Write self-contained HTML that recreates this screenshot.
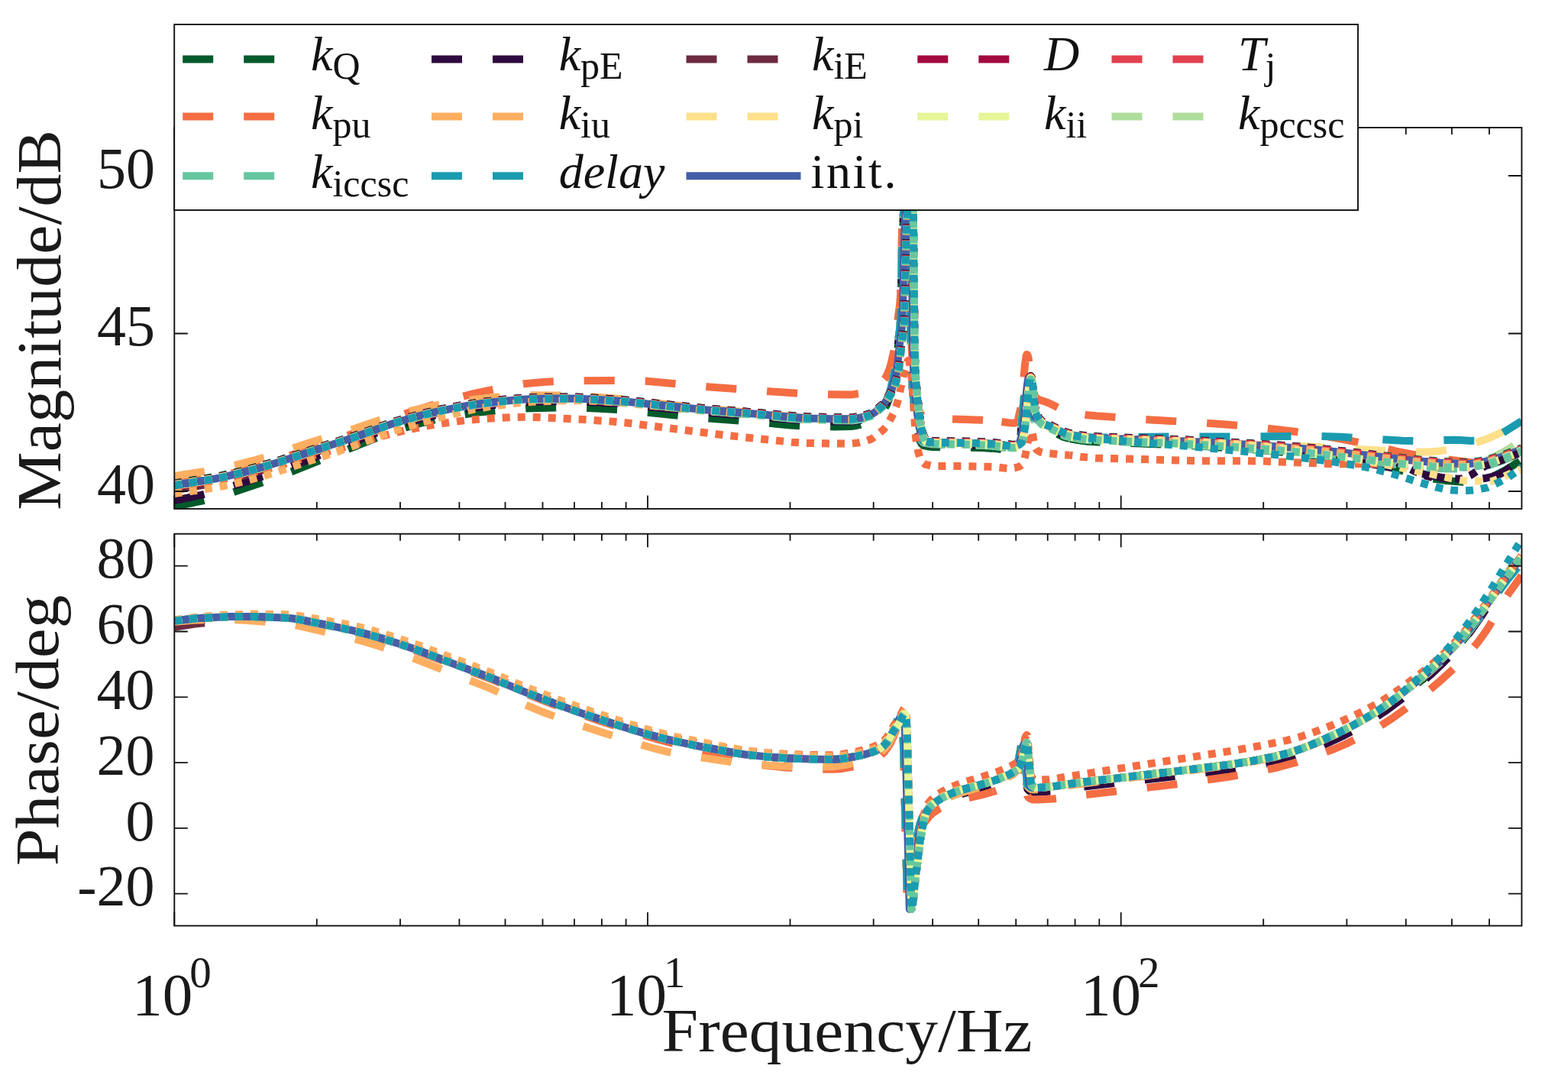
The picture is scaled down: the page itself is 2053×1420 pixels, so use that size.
<!DOCTYPE html>
<html><head><meta charset="utf-8"><title>Bode plot</title>
<style>html,body{margin:0;padding:0;background:#fff;width:2053px;height:1420px;overflow:hidden}svg{display:block}</style>
</head><body>
<svg width="2053" height="1420" viewBox="0 0 2053 1420" font-family="'Liberation Serif', 'DejaVu Serif', serif">
<defs><clipPath id="ct"><rect x="228.3" y="167.0" width="1764.1" height="498.9"/></clipPath>
<clipPath id="cb"><rect x="228.3" y="698.7" width="1764.1" height="512.9"/></clipPath></defs>
<rect width="2053" height="1420" fill="#fff"/>
<g clip-path="url(#ct)"><path d="M228.3 663.0L264.3 655.6L282.6 651.1L302.3 645.1L347.1 630.2L381.8 617.2L502.8 569.3L515.8 564.5L530.3 559.9L553.0 553.3L573.5 548.4L600.8 543.4L625.5 539.8L662.5 536.2L688.3 534.4L728.3 533.5L757.5 533.5L780.3 534.4L813.0 536.3L917.5 546.6L993.3 552.6L1034.8 556.4L1052.0 557.5L1092.5 558.4L1114.3 558.1L1119.8 557.4L1125.8 556.0L1139.5 551.2L1144.5 548.0L1150.0 543.1" stroke="#005a2a" stroke-width="10" fill="none" stroke-linejoin="round" stroke-dasharray="40 40" stroke-dashoffset="0.0"/>
<path d="M1150.0 543.1L1153.3 540.1L1157.8 535.0L1161.0 529.8L1164.0 522.4L1166.8 513.2L1170.0 498.7L1172.5 484.8L1175.5 455.6L1178.0 437.7L1179.0 425.1L1181.3 326.3L1182.3 297.2L1184.8 248.3L1186.0 236.1L1187.0 232.0L1188.0 236.8L1189.3 249.5L1189.5 253.8" stroke="#005a2a" stroke-width="10" fill="none" stroke-linejoin="round" stroke-dasharray="40 40" stroke-dashoffset="66.7"/>
<path d="M1189.5 253.8L1190.8 282.0L1192.5 450.2L1193.3 483.7L1194.3 504.2L1197.8 541.5L1200.5 562.3L1202.3 570.3L1204.0 576.0L1206.8 581.0L1209.3 583.2L1214.3 584.2L1221.0 585.0L1285.5 586.1L1300.0 586.9" stroke="#005a2a" stroke-width="10" fill="none" stroke-linejoin="round" stroke-dasharray="40 40" stroke-dashoffset="6.1"/>
<path d="M1300.0 586.9L1302.8 587.0L1323.5 589.5L1328.3 589.7L1329.8 589.2L1331.5 587.5L1333.0 584.9L1336.3 570.0L1338.0 555.7L1342.0 512.6L1343.5 501.8L1344.3 499.6L1345.0 500.1L1345.8 501.4L1346.8 505.2L1349.3 533.8L1351.0 545.1L1352.8 550.3L1355.5 554.7L1357.8 556.7L1361.0 558.8L1367.0 560.6L1375.8 563.9L1392.5 571.9L1398.8 573.7L1400.0 573.9" stroke="#005a2a" stroke-width="10" fill="none" stroke-linejoin="round" stroke-dasharray="40 40" stroke-dashoffset="29.1"/>
<path d="M1400.0 573.9L1411.5 576.1L1424.0 577.7L1438.3 578.6L1532.8 581.8L1580.3 584.3L1650.8 589.1L1707.3 594.3L1736.5 597.9L1803.3 607.5L1818.5 611.0L1852.8 621.2L1871.3 625.8L1892.5 628.9L1916.0 630.7L1924.3 630.9L1932.0 630.1L1941.3 628.2L1949.8 625.6L1960.5 620.8L1969.3 616.2L1980.5 609.5L1992.3 601.7" stroke="#005a2a" stroke-width="10" fill="none" stroke-linejoin="round" stroke-dasharray="40 40" stroke-dashoffset="79.2"/>
<path d="M228.3 655.0L263.3 647.8L281.6 643.3L298.3 638.2L350.8 621.2L371.6 613.9L404.6 601.4L456.8 580.4L495.6 565.6L511.8 559.7L526.5 555.0L553.3 547.4L576.8 541.7L610.0 535.3L637.5 531.2L669.8 527.7L691.3 526.1L730.5 525.3L758.8 525.4L811.5 528.4L915.3 539.0L1050.5 550.3L1086.8 551.4L1115.5 551.6L1127.0 550.0L1140.3 546.1L1145.0 543.2L1150.0 539.0" stroke="#2e0a3f" stroke-width="10" fill="none" stroke-linejoin="round" stroke-dasharray="40 40" stroke-dashoffset="0.0"/>
<path d="M1150.0 539.0L1153.8 535.8L1158.0 531.1L1161.3 525.9L1164.3 518.5L1166.8 510.0L1170.0 495.7L1172.5 481.8L1175.5 452.7L1178.0 434.8L1179.0 422.2L1181.3 323.4L1182.3 294.3L1184.8 245.4L1186.0 233.2L1187.0 229.1L1188.0 233.9L1189.3 246.6L1189.5 250.9" stroke="#2e0a3f" stroke-width="10" fill="none" stroke-linejoin="round" stroke-dasharray="40 40" stroke-dashoffset="65.6"/>
<path d="M1189.5 250.9L1190.8 279.1L1192.5 447.3L1193.3 480.8L1194.3 501.4L1197.8 538.6L1200.5 559.4L1202.3 567.4L1204.0 573.1L1206.8 578.1L1209.3 580.3L1220.8 582.0L1284.8 583.3L1300.0 584.1" stroke="#2e0a3f" stroke-width="10" fill="none" stroke-linejoin="round" stroke-dasharray="40 40" stroke-dashoffset="3.9"/>
<path d="M1300.0 584.1L1302.5 584.2L1323.5 586.9L1328.3 587.0L1329.8 586.5L1331.5 584.9L1333.0 582.3L1336.3 567.4L1338.0 553.1L1342.0 510.0L1343.5 499.2L1344.3 497.0L1345.0 497.5L1345.8 498.8L1346.8 502.6L1349.3 531.3L1351.0 542.6L1352.8 547.8L1355.5 552.2L1357.8 554.3L1361.0 556.3L1367.0 558.1L1375.8 561.5L1392.8 569.7L1399.8 571.7L1400.0 571.7" stroke="#2e0a3f" stroke-width="10" fill="none" stroke-linejoin="round" stroke-dasharray="40 40" stroke-dashoffset="26.9"/>
<path d="M1400.0 571.7L1412.5 574.1L1425.0 575.6L1439.5 576.6L1526.3 579.6L1564.8 581.6L1627.5 586.4L1683.0 591.6L1726.0 596.7L1792.8 606.8L1831.3 613.7L1873.3 622.4L1887.5 625.0L1899.0 626.4L1921.0 628.0L1931.3 627.7L1945.8 625.7L1953.0 624.0L1962.8 621.0L1968.5 618.0L1974.8 613.6L1981.8 607.8L1992.3 598.2" stroke="#2e0a3f" stroke-width="10" fill="none" stroke-linejoin="round" stroke-dasharray="40 40" stroke-dashoffset="14.6"/>
<path d="M228.3 641.8L243.6 638.7L276.6 632.9L290.3 630.0L314.8 623.8L345.1 615.0L363.8 608.9L457.1 576.6L512.5 555.8L532.0 549.6L551.8 543.9L575.5 538.0L604.5 532.3L628.8 528.4L655.5 525.3L679.3 523.0L698.5 522.0L747.0 521.5L774.8 522.4L812.3 524.9L917.3 535.8L993.3 542.0L1036.5 546.1L1057.5 547.4L1092.3 548.3L1115.8 548.4L1127.0 546.8L1140.0 543.1L1145.0 540.0L1150.0 535.9" stroke="#6d2b40" stroke-width="10" fill="none" stroke-linejoin="round" stroke-dasharray="40 40" stroke-dashoffset="0.0"/>
<path d="M1150.0 535.9L1153.8 532.7L1158.0 527.9L1161.3 522.7L1164.3 515.3L1166.8 506.9L1170.0 492.6L1172.5 478.7L1175.5 449.6L1178.0 431.7L1179.0 419.1L1181.3 320.3L1182.3 291.2L1184.8 242.3L1186.0 230.1L1187.0 226.0L1188.0 230.8L1189.3 243.5L1189.5 247.8" stroke="#6d2b40" stroke-width="10" fill="none" stroke-linejoin="round" stroke-dasharray="40 40" stroke-dashoffset="62.9"/>
<path d="M1189.5 247.8L1190.8 276.0L1192.5 444.2L1193.3 477.7L1194.3 498.2L1197.8 535.5L1200.5 556.3L1202.3 564.3L1204.0 570.0L1206.8 575.0L1209.3 577.2L1220.8 579.0L1284.8 580.3L1300.0 581.1" stroke="#6d2b40" stroke-width="10" fill="none" stroke-linejoin="round" stroke-dasharray="40 40" stroke-dashoffset="1.2"/>
<path d="M1300.0 581.1L1302.5 581.2L1323.5 583.8L1328.3 584.0L1329.8 583.5L1331.5 581.8L1333.0 579.3L1336.3 564.4L1338.0 550.1L1342.0 507.0L1343.5 496.2L1344.3 494.0L1345.0 494.5L1345.8 495.8L1346.8 499.6L1349.3 528.2L1351.0 539.6L1352.8 544.8L1355.8 549.4L1358.0 551.4L1361.0 553.3L1367.0 555.1L1375.5 558.4L1393.3 566.9L1400.0 568.6" stroke="#6d2b40" stroke-width="10" fill="none" stroke-linejoin="round" stroke-dasharray="40 40" stroke-dashoffset="24.2"/>
<path d="M1400.0 568.6L1402.0 569.1L1414.8 571.4L1427.0 572.8L1443.3 573.7L1533.3 576.7L1568.5 578.3L1632.5 581.8L1679.3 584.9L1728.3 589.0L1850.3 602.7L1885.3 605.7L1909.0 606.8L1921.3 607.0L1927.0 606.7L1935.0 605.7L1947.5 603.5L1967.8 597.5L1992.3 588.4" stroke="#6d2b40" stroke-width="10" fill="none" stroke-linejoin="round" stroke-dasharray="40 40" stroke-dashoffset="11.9"/>
<path d="M228.3 637.4L243.3 634.6L276.6 629.5L290.3 626.9L314.8 621.1L345.1 612.9L363.8 607.2L458.8 575.9L513.0 556.6L534.5 550.2L555.5 544.5L578.5 539.1L611.8 532.8L633.3 529.6L663.5 526.2L688.5 524.2L713.0 523.5L750.3 523.2L778.5 524.4L815.8 526.9L922.3 537.8L993.0 543.5L1036.5 547.7L1056.8 548.9L1091.8 549.8L1115.8 549.9L1127.0 548.3L1140.0 544.6L1145.0 541.5L1150.0 537.4" stroke="#a2093f" stroke-width="10" fill="none" stroke-linejoin="round" stroke-dasharray="40 40" stroke-dashoffset="0.0"/>
<path d="M1150.0 537.4L1153.8 534.2L1158.0 529.4L1161.3 524.2L1164.3 516.8L1166.8 508.4L1170.0 494.1L1172.5 480.2L1175.5 451.0L1178.0 433.1L1179.0 420.6L1181.3 321.8L1182.3 292.7L1184.8 243.7L1186.0 231.6L1187.0 227.5L1188.0 232.3L1189.3 244.9L1189.5 249.3" stroke="#a2093f" stroke-width="10" fill="none" stroke-linejoin="round" stroke-dasharray="40 40" stroke-dashoffset="61.2"/>
<path d="M1189.5 249.3L1190.8 277.5L1192.5 445.7L1193.3 479.2L1194.3 499.7L1197.8 537.0L1200.5 557.7L1202.3 565.8L1204.0 571.5L1206.8 576.4L1209.3 578.7L1220.8 580.4L1284.8 581.7L1300.0 582.5" stroke="#a2093f" stroke-width="10" fill="none" stroke-linejoin="round" stroke-dasharray="40 40" stroke-dashoffset="79.5"/>
<path d="M1300.0 582.5L1302.5 582.6L1323.5 585.2L1328.3 585.4L1329.8 584.9L1331.5 583.2L1333.0 580.7L1336.3 565.8L1338.0 551.5L1342.0 508.4L1343.5 497.6L1344.3 495.4L1345.0 495.9L1345.8 497.2L1346.8 501.0L1349.3 529.6L1351.0 541.0L1352.8 546.2L1355.8 550.8L1358.0 552.8L1361.0 554.7L1367.0 556.5L1375.5 559.7L1393.3 568.2L1400.0 570.0" stroke="#a2093f" stroke-width="10" fill="none" stroke-linejoin="round" stroke-dasharray="40 40" stroke-dashoffset="22.5"/>
<path d="M1400.0 570.0L1402.0 570.5L1414.8 572.8L1427.0 574.1L1443.3 575.1L1533.3 578.0L1568.5 579.6L1632.5 583.1L1679.3 586.1L1728.3 590.2L1850.3 603.8L1885.3 606.8L1909.0 607.9L1921.3 608.1L1927.0 607.8L1935.0 606.8L1947.5 604.6L1967.8 598.6L1992.3 589.4" stroke="#a2093f" stroke-width="10" fill="none" stroke-linejoin="round" stroke-dasharray="40 40" stroke-dashoffset="10.1"/>
<path d="M228.3 636.4L243.3 633.7L276.6 628.5L290.3 625.9L314.8 620.2L345.1 612.0L363.8 606.2L458.8 575.1L513.0 555.8L534.5 549.3L555.5 543.6L578.5 538.3L611.8 532.0L633.3 528.8L663.5 525.4L688.5 523.4L713.0 522.8L750.3 522.5L778.5 523.7L815.8 526.3L922.3 537.2L993.0 543.0L1036.5 547.1L1056.8 548.4L1091.8 549.3L1115.8 549.4L1127.0 547.8L1140.0 544.1L1145.0 541.0L1150.0 536.9" stroke="#e0404f" stroke-width="10" fill="none" stroke-linejoin="round" stroke-dasharray="40 40" stroke-dashoffset="0.0"/>
<path d="M1150.0 536.9L1153.8 533.7L1158.0 528.9L1161.3 523.7L1164.3 516.3L1166.8 507.9L1170.0 493.6L1172.5 479.7L1175.5 450.6L1178.0 432.7L1179.0 420.1L1181.3 321.3L1182.3 292.2L1184.8 243.3L1186.0 231.1L1187.0 227.0L1188.0 231.8L1189.3 244.5L1189.5 248.8" stroke="#e0404f" stroke-width="10" fill="none" stroke-linejoin="round" stroke-dasharray="40 40" stroke-dashoffset="61.1"/>
<path d="M1189.5 248.8L1190.8 277.0L1192.5 445.2L1193.3 478.7L1194.3 499.2L1197.8 536.5L1200.5 557.3L1202.3 565.3L1204.0 571.0L1206.8 576.0L1209.3 578.2L1220.8 580.0L1284.8 581.3L1300.0 582.1" stroke="#e0404f" stroke-width="10" fill="none" stroke-linejoin="round" stroke-dasharray="40 40" stroke-dashoffset="79.5"/>
<path d="M1300.0 582.1L1302.5 582.2L1323.5 584.8L1328.3 585.0L1329.8 584.5L1331.5 582.8L1333.0 580.3L1336.3 565.4L1338.0 551.1L1342.0 508.0L1343.5 497.2L1344.3 495.0L1345.0 495.5L1345.8 496.8L1346.8 500.6L1349.3 529.2L1351.0 540.6L1352.8 545.8L1355.8 550.4L1358.0 552.4L1361.0 554.3L1367.0 556.1L1375.5 559.4L1393.3 567.9L1400.0 569.6" stroke="#e0404f" stroke-width="10" fill="none" stroke-linejoin="round" stroke-dasharray="40 40" stroke-dashoffset="22.4"/>
<path d="M1400.0 569.6L1402.0 570.1L1414.8 572.4L1427.0 573.8L1443.3 574.7L1533.3 577.7L1568.5 579.3L1632.5 582.8L1679.3 585.9L1728.3 590.0L1850.3 603.7L1885.3 606.7L1909.0 607.8L1921.3 608.0L1927.0 607.7L1935.0 606.7L1947.5 604.5L1967.8 598.5L1992.3 589.4" stroke="#e0404f" stroke-width="10" fill="none" stroke-linejoin="round" stroke-dasharray="40 40" stroke-dashoffset="10.1"/>
<path d="M228.3 633.4L285.3 623.6L305.6 619.0L328.8 612.7L360.3 603.0L439.6 575.5L467.1 565.6L514.8 546.8L538.3 538.8L562.3 531.2L596.8 521.2L622.3 514.6L663.0 506.2L687.0 502.2L711.3 500.0L747.3 498.2L826.5 497.9L848.5 498.9L929.0 506.4L1052.8 515.5L1089.8 516.3L1115.8 516.4L1127.3 514.8L1140.5 511.0L1145.3 508.0L1150.0 504.0" stroke="#f46d43" stroke-width="10" fill="none" stroke-linejoin="round" stroke-dasharray="40 40" stroke-dashoffset="3.9"/>
<path d="M1150.0 504.0L1154.0 500.6L1158.3 495.8L1161.3 491.0L1164.3 483.6L1166.8 475.2L1170.0 460.9L1172.5 447.0L1175.5 417.9L1178.0 400.0L1179.0 387.5L1181.3 288.7L1182.3 259.6L1184.8 210.7L1186.0 198.6L1187.0 194.5L1188.0 199.3L1189.3 212.0L1189.5 216.3" stroke="#f46d43" stroke-width="10" fill="none" stroke-linejoin="round" stroke-dasharray="40 40" stroke-dashoffset="68.9"/>
<path d="M1189.5 216.3L1190.8 244.5L1192.5 412.8L1193.3 446.3L1194.3 466.8L1197.8 504.1L1200.5 524.9L1202.3 532.9L1204.0 538.7L1206.8 543.6L1209.3 545.9L1214.3 547.0L1221.0 547.8L1285.5 549.7L1300.0 550.6" stroke="#f46d43" stroke-width="10" fill="none" stroke-linejoin="round" stroke-dasharray="40 40" stroke-dashoffset="29.8"/>
<path d="M1300.0 550.6L1302.8 550.8L1323.5 553.6L1328.3 553.8L1329.8 553.3L1331.5 551.6L1333.0 549.1L1336.3 534.2L1338.0 519.9L1342.0 476.9L1343.5 466.1L1344.3 463.9L1345.0 464.4L1345.8 465.7L1346.8 469.5L1349.3 498.2L1350.8 508.3L1352.3 513.7L1355.3 518.9L1357.5 521.1L1360.8 523.2L1367.0 525.2L1375.8 528.7L1392.0 536.7L1396.8 538.4L1400.0 539.1" stroke="#f46d43" stroke-width="10" fill="none" stroke-linejoin="round" stroke-dasharray="40 40" stroke-dashoffset="68.5"/>
<path d="M1400.0 539.1L1408.5 540.9L1421.3 542.9L1434.5 544.2L1506.5 549.5L1569.5 553.0L1611.3 555.9L1647.5 559.3L1690.5 564.2L1725.8 569.2L1765.5 576.3L1785.5 580.5L1828.5 590.6L1848.0 594.4L1882.3 599.6L1943.8 607.6L1948.5 607.7L1953.0 607.0L1960.3 604.8L1966.3 602.5L1979.5 595.6L1992.3 586.7" stroke="#f46d43" stroke-width="10" fill="none" stroke-linejoin="round" stroke-dasharray="40 40" stroke-dashoffset="59.1"/>
<path d="M228.3 623.4L241.6 621.0L273.1 616.1L287.1 613.6L308.8 608.7L334.1 602.1L358.1 595.1L405.8 579.2L462.8 561.5L509.1 545.8L541.3 536.9L563.0 531.9L582.3 528.2L611.3 523.8L636.5 521.0L669.5 518.3L690.3 517.3L726.5 517.4L756.0 518.0L810.5 521.9L916.0 533.9L1049.5 546.5L1085.0 547.8L1115.3 548.3L1126.8 546.7L1140.0 543.0L1145.0 539.9L1150.0 535.8" stroke="#fdae61" stroke-width="10" fill="none" stroke-linejoin="round" stroke-dasharray="40 40" stroke-dashoffset="0.0"/>
<path d="M1150.0 535.8L1153.8 532.6L1158.0 527.9L1161.3 522.7L1164.3 515.3L1166.8 506.9L1170.0 492.5L1172.5 478.7L1175.5 449.5L1178.0 431.6L1179.0 419.1L1181.3 320.3L1182.3 291.2L1184.8 242.3L1186.0 230.1L1187.0 226.0L1188.0 230.8L1189.3 243.5L1189.5 247.8" stroke="#fdae61" stroke-width="10" fill="none" stroke-linejoin="round" stroke-dasharray="40 40" stroke-dashoffset="59.9"/>
<path d="M1189.5 247.8L1190.8 276.0L1192.5 444.2L1193.3 477.7L1194.3 498.2L1197.8 535.5L1200.5 556.3L1202.3 564.3L1204.0 570.0L1206.8 575.0L1209.3 577.2L1220.8 579.0L1284.8 580.3L1300.0 581.1" stroke="#fdae61" stroke-width="10" fill="none" stroke-linejoin="round" stroke-dasharray="40 40" stroke-dashoffset="78.2"/>
<path d="M1300.0 581.1L1302.5 581.2L1323.5 583.8L1328.3 584.0L1329.8 583.5L1331.5 581.8L1333.0 579.3L1336.3 564.4L1338.0 550.1L1342.0 507.0L1343.5 496.2L1344.3 494.0L1345.0 494.5L1345.8 495.8L1346.8 499.6L1349.3 528.2L1351.0 539.6L1352.8 544.8L1355.8 549.4L1358.0 551.4L1361.0 553.3L1367.0 555.1L1375.5 558.4L1393.3 566.9L1400.0 568.6" stroke="#fdae61" stroke-width="10" fill="none" stroke-linejoin="round" stroke-dasharray="40 40" stroke-dashoffset="21.2"/>
<path d="M1400.0 568.6L1402.0 569.1L1414.8 571.4L1427.0 572.8L1443.3 573.7L1533.3 576.7L1568.5 578.3L1632.5 581.8L1679.3 584.9L1728.3 589.0L1850.3 602.7L1885.3 605.7L1909.0 606.8L1921.3 607.0L1927.0 606.7L1935.0 605.7L1947.5 603.5L1967.8 597.5L1992.3 588.4" stroke="#fdae61" stroke-width="10" fill="none" stroke-linejoin="round" stroke-dasharray="40 40" stroke-dashoffset="8.9"/>
<path d="M228.3 635.4L243.3 632.7L276.6 627.5L290.3 624.9L314.8 619.2L345.1 611.0L363.8 605.2L458.8 574.1L513.0 554.8L534.5 548.3L555.5 542.6L578.5 537.3L611.8 531.0L633.3 527.8L663.5 524.4L688.5 522.4L713.0 521.8L750.3 521.5L778.5 522.7L815.8 525.3L922.3 536.2L993.0 542.0L1036.5 546.1L1056.8 547.4L1091.8 548.3L1115.8 548.4L1127.0 546.8L1140.0 543.1L1145.0 540.0L1150.0 535.9" stroke="#fee08b" stroke-width="10" fill="none" stroke-linejoin="round" stroke-dasharray="40 40" stroke-dashoffset="0.0"/>
<path d="M1150.0 535.9L1153.8 532.7L1158.0 527.9L1161.3 522.7L1164.3 515.3L1166.8 506.9L1170.0 492.6L1172.5 478.7L1175.5 449.6L1178.0 431.7L1179.0 419.1L1181.3 320.3L1182.3 291.2L1184.8 242.3L1186.0 230.1L1187.0 226.0L1188.0 230.8L1189.3 243.5L1189.5 247.8" stroke="#fee08b" stroke-width="10" fill="none" stroke-linejoin="round" stroke-dasharray="40 40" stroke-dashoffset="61.1"/>
<path d="M1189.5 247.8L1190.8 276.0L1192.5 444.2L1193.3 477.7L1194.3 498.2L1197.8 535.5L1200.5 556.3L1202.3 564.3L1204.0 570.0L1206.8 575.0L1208.0 576.4L1209.5 577.3L1220.8 579.0L1284.8 580.3L1300.0 581.1" stroke="#fee08b" stroke-width="10" fill="none" stroke-linejoin="round" stroke-dasharray="40 40" stroke-dashoffset="79.5"/>
<path d="M1300.0 581.1L1302.5 581.2L1323.5 583.8L1328.3 584.0L1329.8 583.5L1331.5 581.8L1333.0 579.3L1336.3 564.4L1338.0 550.1L1342.0 507.0L1343.5 496.2L1344.3 494.0L1345.0 494.5L1345.8 495.8L1346.8 499.6L1349.3 528.2L1351.0 539.6L1353.0 545.3L1356.3 550.0L1361.0 553.3L1367.0 555.1L1375.5 558.4L1389.0 565.1L1394.5 567.3L1400.0 568.5" stroke="#fee08b" stroke-width="10" fill="none" stroke-linejoin="round" stroke-dasharray="40 40" stroke-dashoffset="22.5"/>
<path d="M1400.0 568.5L1409.3 570.5L1425.0 572.6L1449.5 574.0L1546.0 577.3L1627.0 581.3L1718.0 584.5L1829.3 591.0L1849.3 591.6L1872.0 591.4L1883.0 590.6L1894.8 588.8L1917.5 583.8L1928.5 580.9L1951.0 572.8L1969.8 564.2L1992.3 553.1" stroke="#fee08b" stroke-width="10" fill="none" stroke-linejoin="round" stroke-dasharray="40 40" stroke-dashoffset="25.2"/>
<path d="M228.3 636.4L243.3 633.7L276.3 628.6L290.1 626.0L314.6 620.3L344.8 612.1L363.6 606.3L458.8 575.1L513.0 555.8L534.5 549.4L555.5 543.7L578.5 538.4L611.8 532.1L633.3 528.9L663.5 525.5L688.5 523.5L713.3 522.9L750.3 522.7L778.5 523.8L815.8 526.4L922.3 537.5L993.0 543.3L1036.8 547.5L1056.8 548.8L1091.8 549.7L1115.8 549.9L1127.0 548.3L1140.0 544.6L1145.0 541.5L1150.0 537.4" stroke="#e6f598" stroke-width="10" fill="none" stroke-linejoin="round" stroke-dasharray="40 40" stroke-dashoffset="0.0"/>
<path d="M1150.0 537.4L1153.8 534.2L1158.0 529.4L1161.3 524.2L1164.3 516.8L1166.8 508.4L1170.0 494.1L1172.5 480.2L1175.5 451.1L1178.0 433.2L1179.0 420.6L1181.3 321.8L1182.3 292.7L1184.8 243.8L1186.0 231.6L1187.0 227.5L1188.0 232.3L1189.3 245.0L1189.5 249.3" stroke="#e6f598" stroke-width="10" fill="none" stroke-linejoin="round" stroke-dasharray="40 40" stroke-dashoffset="61.1"/>
<path d="M1189.5 249.3L1190.8 277.5L1192.5 445.8L1193.3 479.3L1194.3 499.8L1197.8 537.0L1200.5 557.8L1202.3 565.9L1204.0 571.6L1206.8 576.5L1209.3 578.8L1220.8 580.5L1284.8 581.9L1300.0 582.7" stroke="#e6f598" stroke-width="10" fill="none" stroke-linejoin="round" stroke-dasharray="40 40" stroke-dashoffset="79.4"/>
<path d="M1300.0 582.7L1302.5 582.9L1323.5 585.5L1328.3 585.7L1329.8 585.2L1331.5 583.6L1333.0 581.0L1336.3 566.1L1338.0 551.8L1342.0 508.8L1343.5 498.0L1344.3 495.7L1345.0 496.2L1345.8 497.5L1346.8 501.4L1349.3 530.0L1351.0 541.3L1352.8 546.6L1355.8 551.2L1358.0 553.2L1361.0 555.1L1367.0 556.9L1375.8 560.3L1393.0 568.6L1400.0 570.5" stroke="#e6f598" stroke-width="10" fill="none" stroke-linejoin="round" stroke-dasharray="40 40" stroke-dashoffset="22.4"/>
<path d="M1400.0 570.5L1401.3 570.8L1414.3 573.2L1426.3 574.6L1441.5 575.5L1521.8 578.4L1551.8 579.9L1639.5 586.1L1717.0 593.2L1842.5 607.8L1876.3 610.7L1896.5 611.8L1924.3 612.0L1932.8 611.1L1945.5 608.7L1952.8 606.8L1966.5 602.4L1992.3 592.4" stroke="#e6f598" stroke-width="10" fill="none" stroke-linejoin="round" stroke-dasharray="40 40" stroke-dashoffset="10.1"/>
<path d="M228.3 635.4L243.3 632.7L276.3 627.6L290.1 625.0L314.6 619.3L344.8 611.1L363.6 605.4L458.8 574.2L513.0 554.9L534.5 548.5L555.3 542.9L578.3 537.6L611.8 531.3L633.3 528.1L663.5 524.8L688.5 522.8L713.8 522.2L750.5 522.0L778.8 523.2L816.0 525.9L922.3 537.1L993.0 543.0L1036.8 547.3L1057.0 548.6L1092.0 549.7L1115.8 549.9L1127.0 548.3L1140.0 544.6L1145.0 541.5L1150.0 537.4" stroke="#b0dd9c" stroke-width="10" fill="none" stroke-linejoin="round" stroke-dasharray="40 40" stroke-dashoffset="0.0"/>
<path d="M1150.0 537.4L1153.8 534.2L1158.0 529.5L1161.3 524.3L1164.3 516.9L1166.8 508.5L1170.0 494.2L1172.5 480.3L1175.5 451.2L1178.0 433.3L1179.0 420.8L1181.3 321.9L1182.3 292.9L1184.8 243.9L1186.0 231.8L1187.0 227.7L1188.0 232.5L1189.3 245.1L1189.5 249.5" stroke="#b0dd9c" stroke-width="10" fill="none" stroke-linejoin="round" stroke-dasharray="40 40" stroke-dashoffset="61.1"/>
<path d="M1189.5 249.5L1190.8 277.7L1192.5 445.9L1193.3 479.4L1194.3 499.9L1197.8 537.2L1200.5 558.0L1202.3 566.0L1204.0 571.7L1206.8 576.7L1209.3 579.0L1220.8 580.7L1284.8 582.3L1300.0 583.2" stroke="#b0dd9c" stroke-width="10" fill="none" stroke-linejoin="round" stroke-dasharray="40 40" stroke-dashoffset="79.3"/>
<path d="M1300.0 583.2L1302.5 583.3L1323.5 586.0L1328.3 586.2L1329.8 585.7L1331.5 584.1L1333.0 581.5L1336.3 566.7L1338.0 552.3L1342.0 509.3L1343.5 498.5L1344.3 496.3L1345.0 496.8L1345.8 498.1L1346.8 501.9L1349.3 530.5L1351.0 541.9L1353.0 547.6L1356.0 552.0L1361.0 555.7L1367.0 557.5L1375.5 560.8L1393.8 569.5L1400.0 571.0" stroke="#b0dd9c" stroke-width="10" fill="none" stroke-linejoin="round" stroke-dasharray="40 40" stroke-dashoffset="22.3"/>
<path d="M1400.0 571.0L1405.5 572.4L1419.8 574.7L1444.5 576.5L1547.3 580.8L1658.8 588.7L1721.8 594.4L1842.5 608.9L1861.8 610.2L1881.8 610.8L1898.0 610.4L1920.8 608.9L1928.0 607.8L1936.3 605.5L1948.8 601.2L1963.3 594.3L1977.5 586.3L1992.3 576.6" stroke="#b0dd9c" stroke-width="10" fill="none" stroke-linejoin="round" stroke-dasharray="40 40" stroke-dashoffset="10.1"/>
<path d="M228.3 635.4L243.3 632.7L276.3 627.6L290.1 625.0L314.6 619.3L344.6 611.2L363.6 605.4L458.8 574.3L513.0 555.0L534.5 548.6L555.3 543.0L578.3 537.7L611.8 531.5L633.3 528.3L663.5 525.0L688.5 523.1L713.8 522.5L750.5 522.3L778.8 523.6L816.0 526.3L922.3 537.6L993.0 543.6L1036.8 547.9L1057.0 549.3L1092.0 550.3L1115.8 550.5L1127.0 549.0L1140.0 545.3L1145.0 542.3L1150.0 538.1" stroke="#66c6a0" stroke-width="10" fill="none" stroke-linejoin="round" stroke-dasharray="40 40" stroke-dashoffset="0.0"/>
<path d="M1150.0 538.1L1153.8 534.9L1158.0 530.2L1161.3 525.0L1164.3 517.7L1166.8 509.2L1170.0 494.9L1172.5 481.0L1175.5 451.9L1178.0 434.0L1179.0 421.5L1181.3 322.7L1182.3 293.6L1184.8 244.7L1186.0 232.5L1187.0 228.4L1188.0 233.2L1189.3 245.9L1189.5 250.2" stroke="#66c6a0" stroke-width="10" fill="none" stroke-linejoin="round" stroke-dasharray="40 40" stroke-dashoffset="61.0"/>
<path d="M1189.5 250.2L1190.8 278.4L1192.5 446.7L1193.3 480.2L1194.3 500.7L1197.8 538.0L1200.5 558.7L1202.3 566.8L1204.0 572.5L1206.8 577.5L1209.3 579.7L1220.8 581.5L1284.8 583.1L1300.0 584.0" stroke="#66c6a0" stroke-width="10" fill="none" stroke-linejoin="round" stroke-dasharray="40 40" stroke-dashoffset="79.2"/>
<path d="M1300.0 584.0L1302.5 584.2L1323.5 586.9L1328.3 587.1L1329.8 586.6L1331.5 585.0L1333.0 582.4L1336.3 567.5L1338.0 553.2L1342.0 510.2L1343.5 499.4L1344.3 497.2L1345.0 497.7L1345.8 499.0L1346.8 502.8L1349.3 531.4L1351.0 542.8L1352.8 548.0L1355.8 552.7L1358.0 554.7L1361.0 556.6L1367.0 558.4L1375.5 561.7L1393.3 570.3L1400.0 572.1" stroke="#66c6a0" stroke-width="10" fill="none" stroke-linejoin="round" stroke-dasharray="40 40" stroke-dashoffset="22.3"/>
<path d="M1400.0 572.1L1402.3 572.7L1415.3 575.0L1427.0 576.4L1442.5 577.4L1525.5 580.7L1556.5 582.2L1655.0 589.2L1721.0 595.3L1843.5 610.0L1873.5 612.5L1893.8 613.6L1923.8 613.6L1932.5 612.5L1945.3 609.9L1952.5 607.9L1966.3 603.2L1992.3 592.7" stroke="#66c6a0" stroke-width="10" fill="none" stroke-linejoin="round" stroke-dasharray="40 40" stroke-dashoffset="10.1"/>
<path d="M228.3 635.4L243.3 632.7L276.6 627.5L290.3 624.9L314.8 619.2L345.1 611.0L363.8 605.2L458.8 574.1L513.0 554.8L534.5 548.3L555.5 542.6L578.5 537.3L611.8 531.0L633.3 527.8L663.5 524.4L688.5 522.4L713.0 521.8L750.3 521.5L778.5 522.7L815.8 525.3L922.3 536.2L993.0 542.0L1036.5 546.1L1056.8 547.4L1091.8 548.3L1115.8 548.4L1127.0 546.8L1140.0 543.1L1145.0 540.0L1150.0 535.9" stroke="#1a9bb0" stroke-width="10" fill="none" stroke-linejoin="round" stroke-dasharray="40 40" stroke-dashoffset="0.0"/>
<path d="M1150.0 535.9L1153.8 532.7L1158.0 527.9L1161.3 522.7L1164.3 515.3L1166.8 506.9L1170.0 492.6L1172.5 478.7L1175.5 449.6L1178.0 431.7L1179.0 419.1L1181.3 320.3L1182.3 291.2L1184.8 242.3L1186.0 230.1L1187.0 226.0L1188.0 230.8L1189.3 243.5L1189.5 247.8" stroke="#1a9bb0" stroke-width="10" fill="none" stroke-linejoin="round" stroke-dasharray="40 40" stroke-dashoffset="61.1"/>
<path d="M1189.5 247.8L1190.8 276.0L1192.5 444.2L1193.3 477.7L1194.3 498.2L1197.8 535.5L1200.5 556.3L1202.3 564.3L1204.0 570.0L1206.8 575.0L1208.0 576.4L1209.5 577.3L1220.8 579.0L1284.8 580.3L1300.0 581.1" stroke="#1a9bb0" stroke-width="10" fill="none" stroke-linejoin="round" stroke-dasharray="40 40" stroke-dashoffset="79.5"/>
<path d="M1300.0 581.1L1302.5 581.2L1323.5 583.8L1328.3 584.0L1329.8 583.5L1331.5 581.8L1333.0 579.3L1336.3 564.4L1338.0 550.1L1342.0 507.0L1343.5 496.2L1344.3 494.0L1345.0 494.5L1345.8 495.8L1346.8 499.6L1349.3 528.2L1351.0 539.6L1353.0 545.3L1356.0 549.7L1361.0 553.3L1367.0 555.1L1375.5 558.4L1388.8 564.9L1394.0 567.1L1400.0 568.5" stroke="#1a9bb0" stroke-width="10" fill="none" stroke-linejoin="round" stroke-dasharray="40 40" stroke-dashoffset="22.5"/>
<path d="M1400.0 568.5L1406.5 570.0L1420.5 571.8L1430.0 572.4L1444.8 572.6L1527.0 571.4L1622.0 571.5L1725.0 570.7L1755.0 571.7L1836.5 576.8L1850.8 576.9L1902.8 575.7L1912.3 575.9L1925.8 576.9L1933.3 576.8L1946.8 575.6L1951.3 574.5L1955.8 572.8L1965.3 567.9L1992.3 551.1" stroke="#1a9bb0" stroke-width="10" fill="none" stroke-linejoin="round" stroke-dasharray="40 40" stroke-dashoffset="69.2"/>
<path d="M228.3 635.4L243.3 632.7L276.6 627.5L290.3 624.9L314.8 619.2L345.1 611.0L363.8 605.2L458.8 574.1L513.0 554.8L534.5 548.3L555.5 542.6L578.5 537.3L611.8 531.0L633.3 527.8L663.5 524.4L688.5 522.4L713.0 521.8L750.3 521.5L778.5 522.7L815.8 525.3L922.3 536.2L993.0 542.0L1036.5 546.1L1056.8 547.4L1091.8 548.3L1115.8 548.4L1127.0 546.8L1140.0 543.1L1145.0 540.0L1153.8 532.7L1158.0 527.9L1161.5 522.4L1166.0 512.9L1169.3 503.9L1172.8 490.8L1175.0 478.7L1178.0 449.6L1180.5 431.7L1181.5 419.1L1183.8 320.3L1184.8 291.2L1187.3 242.3L1188.5 230.1L1189.5 226.0L1190.5 230.8L1191.8 243.5L1193.3 276.0L1195.0 444.2L1195.8 477.7L1196.8 498.2L1200.3 535.5L1203.0 556.3L1204.8 564.3L1206.5 570.0L1209.3 575.0L1211.8 577.4L1216.3 578.5L1221.3 579.0L1267.5 579.7L1300.0 581.0L1325.3 583.9L1328.8 583.9L1331.0 583.0L1334.0 580.4L1335.3 578.2L1337.0 572.4L1338.8 564.4L1340.5 550.1L1344.5 507.0L1346.0 496.2L1346.8 494.0L1347.5 494.5L1348.3 495.8L1349.3 499.6L1351.8 528.2L1353.5 539.6L1355.3 544.8L1358.0 549.2L1360.8 551.6L1364.8 554.0L1376.8 558.9L1392.5 566.6L1400.8 568.9L1414.5 571.4L1425.5 572.7L1438.8 573.5L1556.5 577.7L1627.3 581.5L1679.5 584.9L1728.3 589.0L1850.3 602.7L1885.3 605.7L1909.0 606.8L1921.3 607.0L1927.0 606.7L1935.0 605.7L1947.5 603.5L1967.8 597.5L1992.3 588.4" stroke="#455ea8" stroke-width="10" fill="none" stroke-linejoin="round"/>
<path d="M228.3 632.5L243.3 629.8L276.6 624.8L290.3 622.2L315.1 616.5L345.3 608.4L364.1 602.7L458.6 572.0L513.3 552.6L535.3 546.1L556.3 540.4L579.0 535.2L612.5 528.9L633.8 525.7L664.3 522.4L689.3 520.4L715.3 519.7L750.8 519.5L778.8 520.7L815.8 523.3L922.3 534.2L993.0 540.0L1036.5 544.1L1056.8 545.4L1091.8 546.3L1115.8 546.4L1127.0 544.8L1140.0 541.1L1145.8 537.4L1150.0 533.8" stroke="#005a2a" stroke-width="10" fill="none" stroke-linejoin="round" stroke-dasharray="10 10" stroke-dashoffset="0.0"/>
<path d="M1150.0 533.8L1155.5 528.9L1159.0 524.5L1167.5 511.5L1170.0 506.6L1172.3 500.2L1175.0 489.9L1177.0 479.8L1180.5 447.6L1183.0 429.7L1184.0 417.1L1186.3 318.3L1187.3 289.2L1189.5 246.1" stroke="#005a2a" stroke-width="10" fill="none" stroke-linejoin="round" stroke-dasharray="10 10" stroke-dashoffset="0.9"/>
<path d="M1189.5 246.1L1189.8 240.3L1191.0 228.1L1192.0 224.0L1193.0 228.8L1194.3 241.5L1195.8 274.0L1197.5 442.2L1198.0 467.8L1199.0 492.1L1200.8 514.5L1205.0 551.4L1208.5 567.4L1211.0 573.3L1212.8 575.4L1216.5 576.5L1221.3 577.0L1267.5 577.7L1300.0 579.0" stroke="#005a2a" stroke-width="10" fill="none" stroke-linejoin="round" stroke-dasharray="10 10" stroke-dashoffset="16.9"/>
<path d="M1300.0 579.0L1300.0 579.0L1325.8 582.0L1329.5 581.8L1334.5 580.1L1336.5 578.4L1337.8 576.2L1339.5 570.4L1341.3 562.4L1343.0 548.1L1347.0 505.0L1348.5 494.2L1349.3 492.0L1350.0 492.5L1350.8 493.8L1351.8 497.6L1354.3 526.2L1356.0 537.6L1358.0 543.3L1361.3 548.1L1364.3 551.2L1366.8 552.9L1376.8 556.9L1392.3 564.5L1400.0 566.7" stroke="#005a2a" stroke-width="10" fill="none" stroke-linejoin="round" stroke-dasharray="10 10" stroke-dashoffset="0.1"/>
<path d="M1400.0 566.7L1400.3 566.8L1414.5 569.4L1425.5 570.7L1438.8 571.5L1556.5 575.7L1627.3 579.5L1679.5 582.9L1728.3 587.0L1850.3 600.7L1885.3 603.7L1909.0 604.8L1921.3 605.0L1927.0 604.7L1935.0 603.7L1947.5 601.5L1967.8 595.5L1992.3 586.4" stroke="#005a2a" stroke-width="10" fill="none" stroke-linejoin="round" stroke-dasharray="10 10" stroke-dashoffset="7.2"/>
<path d="M228.3 633.4L243.3 630.7L276.6 625.5L290.3 622.9L314.8 617.2L345.1 609.0L363.8 603.2L458.8 572.1L513.0 552.8L534.5 546.3L555.5 540.6L578.5 535.3L611.8 529.0L633.3 525.8L663.5 522.4L688.5 520.4L713.0 519.8L750.3 519.5L778.5 520.7L815.8 523.3L922.3 534.2L993.0 540.0L1036.5 544.1L1056.8 545.4L1091.8 546.3L1115.8 546.4L1127.0 544.8L1140.0 541.1L1145.8 537.4L1150.0 533.8" stroke="#2e0a3f" stroke-width="10" fill="none" stroke-linejoin="round" stroke-dasharray="10 10" stroke-dashoffset="0.0"/>
<path d="M1150.0 533.8L1155.5 528.9L1159.0 524.5L1167.5 511.5L1170.0 506.6L1172.3 500.2L1175.0 489.9L1177.0 479.8L1180.5 447.6L1183.0 429.7L1184.0 417.1L1186.3 318.3L1187.3 289.2L1189.5 246.1" stroke="#2e0a3f" stroke-width="10" fill="none" stroke-linejoin="round" stroke-dasharray="10 10" stroke-dashoffset="1.2"/>
<path d="M1189.5 246.1L1189.8 240.3L1191.0 228.1L1192.0 224.0L1193.0 228.8L1194.3 241.5L1195.8 274.0L1197.5 442.2L1198.0 467.8L1199.0 492.1L1200.8 514.5L1205.0 551.4L1208.5 567.4L1211.0 573.3L1212.8 575.4L1216.5 576.5L1221.3 577.0L1267.5 577.7L1300.0 579.0" stroke="#2e0a3f" stroke-width="10" fill="none" stroke-linejoin="round" stroke-dasharray="10 10" stroke-dashoffset="17.1"/>
<path d="M1300.0 579.0L1300.0 579.0L1325.8 582.0L1329.5 581.8L1334.5 580.1L1336.5 578.4L1337.8 576.2L1339.5 570.4L1341.3 562.4L1343.0 548.1L1347.0 505.0L1348.5 494.2L1349.3 492.0L1350.0 492.5L1350.8 493.8L1351.8 497.6L1354.3 526.2L1356.0 537.6L1357.8 542.8L1361.0 547.8L1364.0 550.9L1366.8 552.9L1376.8 556.9L1391.8 564.3L1398.3 566.3L1400.0 566.6" stroke="#2e0a3f" stroke-width="10" fill="none" stroke-linejoin="round" stroke-dasharray="10 10" stroke-dashoffset="0.3"/>
<path d="M1400.0 566.6L1412.8 569.1L1424.8 570.6L1439.0 571.5L1552.8 575.6L1664.8 581.9L1722.0 586.4L1800.3 595.0L1809.0 596.8L1818.8 600.3L1828.3 604.6L1852.3 616.8L1866.8 622.6L1872.5 624.2L1878.0 625.1L1898.3 626.4L1911.5 626.8L1915.0 626.3L1918.8 625.2L1925.5 622.0L1939.0 613.1L1944.8 609.9L1969.3 601.2L1992.3 591.8" stroke="#2e0a3f" stroke-width="10" fill="none" stroke-linejoin="round" stroke-dasharray="10 10" stroke-dashoffset="7.4"/>
<path d="M228.3 633.6L243.3 630.9L276.6 626.0L290.3 623.5L315.1 617.9L345.3 609.9L364.1 604.2L458.3 573.9L513.8 554.4L536.3 547.8L557.3 542.2L579.5 537.1L613.5 530.7L634.3 527.7L665.0 524.3L690.3 522.3L717.8 521.7L751.5 521.6L779.3 522.7L816.0 525.3L922.0 536.2L993.0 542.0L1036.5 546.1L1056.8 547.4L1091.8 548.3L1115.8 548.4L1127.0 546.8L1140.0 543.1L1145.8 539.4L1150.0 535.8" stroke="#6d2b40" stroke-width="10" fill="none" stroke-linejoin="round" stroke-dasharray="10 10" stroke-dashoffset="0.0"/>
<path d="M1150.0 535.8L1155.5 530.9L1159.0 526.5L1167.5 513.5L1170.0 508.6L1172.3 502.2L1175.0 491.9L1177.0 481.8L1180.5 449.6L1183.0 431.7L1184.0 419.1L1186.3 320.3L1187.3 291.2L1189.5 248.1" stroke="#6d2b40" stroke-width="10" fill="none" stroke-linejoin="round" stroke-dasharray="10 10" stroke-dashoffset="0.7"/>
<path d="M1189.5 248.1L1189.8 242.3L1191.0 230.1L1192.0 226.0L1193.0 230.8L1194.3 243.5L1195.8 276.0L1197.5 444.2L1198.0 469.8L1199.0 494.1L1200.8 516.5L1205.0 553.4L1208.5 569.4L1211.0 575.3L1212.8 577.4L1216.5 578.5L1221.3 579.0L1267.5 579.7L1300.0 581.0" stroke="#6d2b40" stroke-width="10" fill="none" stroke-linejoin="round" stroke-dasharray="10 10" stroke-dashoffset="16.7"/>
<path d="M1300.0 581.0L1300.0 581.0L1325.8 584.0L1329.5 583.8L1334.5 582.1L1336.5 580.4L1337.8 578.2L1339.5 572.4L1341.3 564.4L1343.0 550.1L1347.0 507.0L1348.5 496.2L1349.3 494.0L1350.0 494.5L1350.8 495.8L1351.8 499.6L1354.3 528.2L1356.0 539.6L1358.0 545.3L1361.3 550.1L1364.3 553.2L1366.8 554.9L1376.8 558.9L1392.3 566.5L1400.0 568.7" stroke="#6d2b40" stroke-width="10" fill="none" stroke-linejoin="round" stroke-dasharray="10 10" stroke-dashoffset="19.9"/>
<path d="M1400.0 568.7L1400.3 568.8L1414.5 571.4L1425.5 572.7L1438.8 573.5L1556.5 577.7L1627.3 581.5L1679.5 584.9L1728.3 589.0L1850.3 602.7L1885.3 605.7L1909.0 606.8L1921.3 607.0L1927.0 606.7L1935.0 605.7L1947.5 603.5L1967.8 597.5L1992.3 588.4" stroke="#6d2b40" stroke-width="10" fill="none" stroke-linejoin="round" stroke-dasharray="10 10" stroke-dashoffset="7.0"/>
<path d="M228.3 634.4L243.3 631.7L276.6 626.5L290.3 623.9L314.8 618.2L345.1 610.0L363.8 604.2L458.8 573.1L513.0 553.8L534.5 547.3L555.5 541.6L578.5 536.3L611.8 530.0L633.3 526.8L663.5 523.4L688.5 521.4L713.0 520.8L750.3 520.5L778.5 521.7L815.8 524.3L922.3 535.2L993.0 541.0L1036.5 545.1L1056.8 546.4L1091.8 547.3L1115.8 547.4L1127.0 545.8L1140.0 542.1L1145.8 538.4L1150.0 534.8" stroke="#a2093f" stroke-width="10" fill="none" stroke-linejoin="round" stroke-dasharray="10 10" stroke-dashoffset="0.0"/>
<path d="M1150.0 534.8L1155.5 529.9L1159.0 525.5L1167.5 512.5L1170.0 507.6L1172.3 501.2L1175.0 490.9L1177.0 480.8L1180.5 448.6L1183.0 430.7L1184.0 418.1L1186.3 319.3L1187.3 290.2L1189.5 247.1" stroke="#a2093f" stroke-width="10" fill="none" stroke-linejoin="round" stroke-dasharray="10 10" stroke-dashoffset="1.2"/>
<path d="M1189.5 247.1L1189.8 241.3L1191.0 229.1L1192.0 225.0L1193.0 229.8L1194.3 242.5L1195.8 275.0L1197.5 443.2L1198.0 468.8L1199.0 493.1L1200.8 515.5L1205.0 552.4L1208.5 568.4L1211.0 574.3L1212.8 576.4L1216.5 577.5L1221.3 578.0L1267.5 578.7L1300.0 580.0" stroke="#a2093f" stroke-width="10" fill="none" stroke-linejoin="round" stroke-dasharray="10 10" stroke-dashoffset="17.1"/>
<path d="M1300.0 580.0L1300.0 580.0L1325.8 583.0L1329.5 582.8L1334.5 581.1L1336.5 579.4L1337.8 577.2L1339.5 571.4L1341.3 563.4L1343.0 549.1L1347.0 506.0L1348.5 495.2L1349.3 493.0L1350.0 493.5L1350.8 494.8L1351.8 498.6L1354.3 527.2L1356.0 538.6L1358.0 544.3L1361.3 549.1L1364.3 552.2L1366.8 553.9L1376.8 557.9L1392.3 565.5L1400.0 567.7" stroke="#a2093f" stroke-width="10" fill="none" stroke-linejoin="round" stroke-dasharray="10 10" stroke-dashoffset="0.3"/>
<path d="M1400.0 567.7L1400.3 567.8L1414.5 570.4L1425.5 571.7L1438.8 572.5L1556.5 576.7L1627.3 580.5L1679.5 583.9L1728.3 588.0L1850.3 601.7L1885.3 604.7L1909.0 605.8L1921.3 606.0L1927.0 605.7L1935.0 604.7L1947.5 602.5L1967.8 596.5L1992.3 587.4" stroke="#a2093f" stroke-width="10" fill="none" stroke-linejoin="round" stroke-dasharray="10 10" stroke-dashoffset="7.4"/>
<path d="M228.3 634.4L243.3 631.7L276.6 626.5L290.3 623.9L314.8 618.2L345.1 610.0L363.8 604.2L458.8 573.1L513.0 553.8L534.5 547.3L555.5 541.6L578.5 536.3L611.8 530.0L633.3 526.8L663.5 523.4L688.5 521.4L713.0 520.8L750.3 520.5L778.5 521.7L815.8 524.3L922.3 535.2L993.0 541.0L1036.5 545.1L1056.8 546.4L1091.8 547.3L1115.8 547.4L1127.0 545.8L1140.0 542.1L1145.8 538.4L1150.0 534.8" stroke="#e0404f" stroke-width="10" fill="none" stroke-linejoin="round" stroke-dasharray="10 10" stroke-dashoffset="0.0"/>
<path d="M1150.0 534.8L1155.5 529.9L1159.0 525.5L1167.5 512.5L1170.0 507.6L1172.3 501.2L1175.0 490.9L1177.0 480.8L1180.5 448.6L1183.0 430.7L1184.0 418.1L1186.3 319.3L1187.3 290.2L1189.5 247.1" stroke="#e0404f" stroke-width="10" fill="none" stroke-linejoin="round" stroke-dasharray="10 10" stroke-dashoffset="1.2"/>
<path d="M1189.5 247.1L1189.8 241.3L1191.0 229.1L1192.0 225.0L1193.0 229.8L1194.3 242.5L1195.8 275.0L1197.5 443.2L1198.0 468.8L1199.0 493.1L1200.8 515.5L1205.0 552.4L1208.5 568.4L1211.0 574.3L1212.8 576.4L1216.5 577.5L1221.3 578.0L1267.5 578.7L1300.0 580.0" stroke="#e0404f" stroke-width="10" fill="none" stroke-linejoin="round" stroke-dasharray="10 10" stroke-dashoffset="17.1"/>
<path d="M1300.0 580.0L1300.0 580.0L1325.8 583.0L1329.5 582.8L1334.5 581.1L1336.5 579.4L1337.8 577.2L1339.5 571.4L1341.3 563.4L1343.0 549.1L1347.0 506.0L1348.5 495.2L1349.3 493.0L1350.0 493.5L1350.8 494.8L1351.8 498.6L1354.3 527.2L1356.0 538.6L1358.0 544.3L1361.3 549.1L1364.3 552.2L1366.8 553.9L1376.8 557.9L1392.3 565.5L1400.0 567.7" stroke="#e0404f" stroke-width="10" fill="none" stroke-linejoin="round" stroke-dasharray="10 10" stroke-dashoffset="0.3"/>
<path d="M1400.0 567.7L1400.3 567.8L1414.5 570.4L1425.5 571.7L1438.8 572.5L1556.5 576.7L1627.3 580.5L1679.5 583.9L1728.3 588.0L1850.3 601.7L1885.3 604.7L1909.0 605.8L1921.3 606.0L1927.0 605.7L1935.0 604.7L1947.5 602.5L1967.8 596.5L1992.3 587.4" stroke="#e0404f" stroke-width="10" fill="none" stroke-linejoin="round" stroke-dasharray="10 10" stroke-dashoffset="7.4"/>
<path d="M228.3 637.4L243.6 634.7L288.1 628.0L308.8 623.8L332.8 618.2L358.6 611.5L404.8 597.7L465.1 581.2L504.8 569.5L530.3 563.3L555.5 558.1L578.0 554.3L609.0 550.2L634.5 547.9L669.3 546.2L692.0 545.8L715.8 546.6L769.0 549.3L803.3 551.8L819.3 553.3L951.5 569.8L1036.3 578.7L1056.0 579.9L1086.8 580.5L1113.8 580.6L1122.8 579.6L1135.0 576.6L1139.8 575.0L1142.5 573.6L1150.0 567.7" stroke="#f46d43" stroke-width="10" fill="none" stroke-linejoin="round" stroke-dasharray="10 10" stroke-dashoffset="0.0"/>
<path d="M1150.0 567.7L1156.3 562.7L1159.8 558.7L1163.3 553.5L1169.5 541.8L1174.5 528.4L1177.0 518.8L1184.3 484.5L1187.3 474.6L1188.3 472.5L1189.0 472.0L1189.5 472.5" stroke="#f46d43" stroke-width="10" fill="none" stroke-linejoin="round" stroke-dasharray="10 10" stroke-dashoffset="17.2"/>
<path d="M1189.5 472.5L1190.0 473.1L1191.0 475.9L1193.3 487.2L1198.8 569.0L1199.8 578.7L1201.8 589.7L1204.5 599.1L1208.5 605.4L1211.5 607.8L1219.0 609.5L1225.8 610.1L1264.5 610.1L1293.8 610.8L1300.0 611.1" stroke="#f46d43" stroke-width="10" fill="none" stroke-linejoin="round" stroke-dasharray="10 10" stroke-dashoffset="3.6"/>
<path d="M1300.0 611.1L1304.0 611.3L1320.0 613.1L1328.3 612.3L1333.5 611.0L1336.0 609.8L1337.5 608.6L1339.3 605.7L1341.3 600.9L1343.0 593.5L1347.0 571.5L1348.5 565.9L1349.3 564.7L1350.8 565.4L1351.8 567.2L1354.3 581.2L1356.0 586.6L1356.8 588.0L1358.3 589.5L1362.0 591.6L1367.3 593.0L1376.8 593.6L1391.8 595.4L1400.0 595.6" stroke="#f46d43" stroke-width="10" fill="none" stroke-linejoin="round" stroke-dasharray="10 10" stroke-dashoffset="11.6"/>
<path d="M1400.0 595.6L1400.0 595.6L1417.0 598.1L1434.5 599.4L1570.3 603.2L1630.8 603.2L1653.8 603.6L1745.0 607.2L1796.0 606.9L1883.0 611.1L1916.8 611.5L1923.8 611.3L1930.0 610.6L1949.0 606.9L1968.5 600.6L1992.3 591.4" stroke="#f46d43" stroke-width="10" fill="none" stroke-linejoin="round" stroke-dasharray="10 10" stroke-dashoffset="5.7"/>
<path d="M228.3 646.1L284.3 637.9L303.1 634.0L323.6 628.9L349.6 621.7L370.8 614.9L456.3 586.2L514.5 564.5L553.3 552.4L585.3 543.9L620.0 535.9L639.8 532.4L674.8 527.7L697.5 525.8L740.8 524.2L761.5 524.2L787.0 525.3L817.5 527.3L920.8 537.6L993.0 543.2L1037.0 547.3L1057.5 548.5L1092.3 549.4L1115.8 549.5L1127.0 547.9L1140.0 544.1L1145.8 540.5L1150.0 536.8" stroke="#fdae61" stroke-width="10" fill="none" stroke-linejoin="round" stroke-dasharray="10 10" stroke-dashoffset="0.0"/>
<path d="M1150.0 536.8L1155.5 531.9L1159.0 527.6L1167.5 514.5L1170.0 509.6L1172.3 503.2L1175.0 492.9L1177.0 482.8L1180.5 450.6L1183.0 432.7L1184.0 420.1L1186.3 321.3L1187.3 292.2L1189.5 249.1" stroke="#fdae61" stroke-width="10" fill="none" stroke-linejoin="round" stroke-dasharray="10 10" stroke-dashoffset="2.7"/>
<path d="M1189.5 249.1L1189.8 243.3L1191.0 231.1L1192.0 227.0L1193.0 231.8L1194.3 244.5L1195.8 277.0L1197.5 445.2L1198.0 470.8L1199.0 495.1L1200.8 517.5L1205.0 554.4L1208.5 570.4L1211.0 576.3L1212.8 578.4L1216.5 579.5L1221.3 580.0L1267.5 580.7L1300.0 582.0" stroke="#fdae61" stroke-width="10" fill="none" stroke-linejoin="round" stroke-dasharray="10 10" stroke-dashoffset="18.7"/>
<path d="M1300.0 582.0L1300.0 582.0L1325.8 585.0L1329.5 584.8L1334.5 583.1L1336.5 581.4L1337.8 579.2L1339.5 573.4L1341.3 565.4L1343.0 551.1L1347.0 508.0L1348.5 497.2L1349.3 495.0L1350.0 495.5L1350.8 496.8L1351.8 500.6L1354.3 529.2L1356.0 540.6L1358.0 546.3L1361.3 551.1L1364.3 554.2L1366.8 555.9L1376.8 559.9L1392.3 567.5L1400.0 569.7" stroke="#fdae61" stroke-width="10" fill="none" stroke-linejoin="round" stroke-dasharray="10 10" stroke-dashoffset="1.9"/>
<path d="M1400.0 569.7L1400.3 569.8L1414.5 572.4L1425.5 573.7L1438.8 574.5L1556.5 578.7L1627.3 582.5L1679.5 585.9L1728.3 590.0L1850.3 603.7L1885.3 606.7L1909.0 607.8L1921.3 608.0L1927.0 607.7L1935.0 606.7L1947.5 604.5L1967.8 598.5L1992.3 589.4" stroke="#fdae61" stroke-width="10" fill="none" stroke-linejoin="round" stroke-dasharray="10 10" stroke-dashoffset="9.0"/>
<path d="M228.3 635.4L243.3 632.7L276.6 627.5L290.3 624.9L314.8 619.2L345.1 611.0L363.8 605.2L458.8 574.1L513.0 554.8L534.5 548.3L555.5 542.6L578.5 537.3L611.8 531.0L633.3 527.8L663.5 524.4L688.5 522.4L713.0 521.8L750.3 521.5L778.5 522.7L815.8 525.3L922.3 536.2L993.0 542.0L1036.5 546.1L1056.8 547.4L1091.8 548.3L1115.8 548.4L1127.0 546.8L1140.0 543.1L1145.8 539.4L1150.0 535.8" stroke="#fee08b" stroke-width="10" fill="none" stroke-linejoin="round" stroke-dasharray="10 10" stroke-dashoffset="0.0"/>
<path d="M1150.0 535.8L1155.5 530.9L1159.0 526.5L1167.5 513.5L1170.0 508.6L1172.3 502.2L1175.0 491.9L1177.0 481.8L1180.5 449.6L1183.0 431.7L1184.0 419.1L1186.3 320.3L1187.3 291.2L1189.5 248.1" stroke="#fee08b" stroke-width="10" fill="none" stroke-linejoin="round" stroke-dasharray="10 10" stroke-dashoffset="1.2"/>
<path d="M1189.5 248.1L1189.8 242.3L1191.0 230.1L1192.0 226.0L1193.0 230.8L1194.3 243.5L1195.8 276.0L1197.5 444.2L1198.0 469.8L1199.0 494.1L1200.8 516.5L1205.0 553.4L1208.5 569.4L1211.0 575.3L1212.8 577.4L1216.5 578.5L1221.3 579.0L1267.5 579.7L1300.0 581.0" stroke="#fee08b" stroke-width="10" fill="none" stroke-linejoin="round" stroke-dasharray="10 10" stroke-dashoffset="14.0"/>
<path d="M1300.0 581.0L1300.0 581.0L1325.8 584.0L1329.5 583.8L1334.5 582.1L1336.5 580.4L1337.8 578.2L1339.5 572.4L1341.3 564.4L1343.0 550.1L1347.0 507.0L1348.5 496.2L1349.3 494.0L1350.0 494.5L1350.8 495.8L1351.8 499.6L1354.3 528.2L1355.8 538.3L1357.0 543.1L1360.0 548.5L1364.0 552.9L1367.5 555.3L1376.8 558.9L1393.0 566.8L1396.8 568.0L1400.0 568.6" stroke="#fee08b" stroke-width="10" fill="none" stroke-linejoin="round" stroke-dasharray="10 10" stroke-dashoffset="17.2"/>
<path d="M1400.0 568.6L1406.8 570.1L1421.8 572.3L1438.3 573.5L1542.5 577.1L1609.5 580.6L1647.0 583.4L1685.8 587.4L1726.0 592.6L1778.5 601.3L1812.3 607.7L1872.3 619.9L1900.3 626.1L1913.0 628.4L1922.3 629.5L1937.8 629.6L1948.0 630.5L1953.0 630.0L1960.5 627.4L1992.3 613.5" stroke="#fee08b" stroke-width="10" fill="none" stroke-linejoin="round" stroke-dasharray="10 10" stroke-dashoffset="4.3"/>
<path d="M228.3 634.4L243.3 631.7L276.6 626.6L290.1 624.0L314.6 618.3L344.6 610.2L363.6 604.4L458.8 573.3L513.0 554.1L534.5 547.7L555.3 542.1L578.3 536.8L611.5 530.5L633.3 527.3L663.3 524.1L688.5 522.1L713.3 521.5L750.3 521.4L778.8 522.6L816.0 525.3L922.3 536.6L993.0 542.6L1036.8 546.9L1057.0 548.3L1092.0 549.4L1115.8 549.6L1127.0 548.0L1140.0 544.4L1145.8 540.7L1150.0 537.1" stroke="#e6f598" stroke-width="10" fill="none" stroke-linejoin="round" stroke-dasharray="10 10" stroke-dashoffset="0.0"/>
<path d="M1150.0 537.1L1155.5 532.2L1159.0 527.9L1167.5 514.9L1170.0 510.0L1172.3 503.6L1175.0 493.3L1177.0 483.2L1180.5 451.0L1183.0 433.1L1184.0 420.6L1186.3 321.7L1187.3 292.7L1189.5 249.6" stroke="#e6f598" stroke-width="10" fill="none" stroke-linejoin="round" stroke-dasharray="10 10" stroke-dashoffset="1.1"/>
<path d="M1189.5 249.6L1189.8 243.7L1191.0 231.6L1192.0 227.5L1193.0 232.3L1194.3 245.0L1195.8 277.5L1197.5 445.7L1198.0 471.3L1199.0 495.7L1200.8 518.1L1205.0 555.0L1208.5 571.0L1211.0 576.9L1212.8 579.0L1216.5 580.1L1221.3 580.6L1267.5 581.5L1300.0 583.0" stroke="#e6f598" stroke-width="10" fill="none" stroke-linejoin="round" stroke-dasharray="10 10" stroke-dashoffset="13.9"/>
<path d="M1300.0 583.0L1300.0 583.0L1325.8 586.1L1329.5 585.9L1334.5 584.3L1336.5 582.6L1337.8 580.3L1339.5 574.6L1341.3 566.6L1343.0 552.3L1347.0 509.2L1348.5 498.4L1349.3 496.2L1350.0 496.7L1350.8 498.0L1351.8 501.9L1354.3 530.5L1356.0 541.8L1358.0 547.6L1361.3 552.4L1364.3 555.5L1366.8 557.2L1376.8 561.3L1392.5 569.0L1400.0 571.1" stroke="#e6f598" stroke-width="10" fill="none" stroke-linejoin="round" stroke-dasharray="10 10" stroke-dashoffset="17.2"/>
<path d="M1400.0 571.1L1401.3 571.5L1415.5 574.1L1427.3 575.4L1443.0 576.4L1556.0 581.2L1653.0 587.8L1720.0 593.7L1840.0 607.4L1873.0 610.0L1894.0 611.1L1923.8 611.0L1932.3 610.0L1945.3 607.4L1952.5 605.5L1966.3 600.8L1992.3 590.4" stroke="#e6f598" stroke-width="10" fill="none" stroke-linejoin="round" stroke-dasharray="10 10" stroke-dashoffset="4.4"/>
<path d="M228.3 635.4L243.3 632.7L276.3 627.6L290.1 625.0L314.6 619.3L344.8 611.1L363.6 605.4L458.8 574.2L513.0 555.0L534.5 548.6L555.3 543.0L578.3 537.6L611.8 531.3L633.3 528.2L663.5 524.9L688.5 522.9L713.8 522.3L750.5 522.1L778.8 523.3L816.0 526.0L922.3 537.2L993.0 543.2L1036.8 547.5L1057.0 548.8L1092.0 549.8L1115.8 550.0L1127.0 548.4L1140.0 544.8L1145.8 541.1L1150.0 537.5" stroke="#b0dd9c" stroke-width="10" fill="none" stroke-linejoin="round" stroke-dasharray="10 10" stroke-dashoffset="0.0"/>
<path d="M1150.0 537.5L1155.5 532.6L1159.0 528.3L1167.5 515.3L1170.0 510.4L1172.3 504.0L1175.0 493.7L1177.0 483.6L1180.5 451.3L1183.0 433.5L1184.0 420.9L1186.3 322.1L1187.3 293.0L1189.5 250.0" stroke="#b0dd9c" stroke-width="10" fill="none" stroke-linejoin="round" stroke-dasharray="10 10" stroke-dashoffset="1.1"/>
<path d="M1189.5 250.0L1189.8 244.1L1191.0 231.9L1192.0 227.8L1193.0 232.6L1194.3 245.3L1195.8 277.8L1197.5 446.1L1198.0 471.6L1199.0 496.0L1200.8 518.4L1205.0 555.3L1208.5 571.3L1211.0 577.2L1212.8 579.3L1216.5 580.4L1221.3 580.9L1267.5 581.8L1300.0 583.2" stroke="#b0dd9c" stroke-width="10" fill="none" stroke-linejoin="round" stroke-dasharray="10 10" stroke-dashoffset="16.9"/>
<path d="M1300.0 583.2L1300.0 583.2L1325.8 586.3L1329.5 586.1L1334.5 584.5L1336.5 582.8L1337.8 580.5L1339.5 574.8L1341.3 566.8L1343.0 552.5L1347.0 509.4L1348.5 498.6L1349.3 496.4L1350.0 496.9L1350.8 498.2L1351.8 502.0L1354.3 530.6L1356.0 542.0L1358.0 547.8L1361.3 552.6L1364.3 555.6L1366.8 557.4L1376.8 561.4L1392.5 569.1L1400.0 571.2" stroke="#b0dd9c" stroke-width="10" fill="none" stroke-linejoin="round" stroke-dasharray="10 10" stroke-dashoffset="0.2"/>
<path d="M1400.0 571.2L1401.5 571.6L1415.8 574.2L1427.3 575.5L1443.0 576.5L1526.8 579.7L1558.0 581.2L1659.8 588.1L1722.3 593.7L1844.3 608.1L1871.8 610.3L1891.5 611.2L1922.3 610.9L1929.8 610.1L1939.3 608.2L1949.5 605.7L1962.8 601.1L1977.5 595.3L1992.3 588.8" stroke="#b0dd9c" stroke-width="10" fill="none" stroke-linejoin="round" stroke-dasharray="10 10" stroke-dashoffset="7.4"/>
<path d="M228.3 635.4L243.3 632.7L276.3 627.6L290.1 625.0L314.6 619.3L344.8 611.1L363.6 605.4L458.8 574.2L513.0 555.0L534.5 548.6L555.3 543.0L578.3 537.6L611.8 531.3L633.3 528.2L663.5 524.9L688.5 522.9L713.8 522.3L750.5 522.1L778.8 523.3L816.0 526.0L922.3 537.2L993.0 543.2L1036.8 547.5L1057.0 548.8L1092.0 549.8L1115.8 550.0L1127.0 548.4L1140.0 544.8L1145.8 541.1L1150.0 537.5" stroke="#66c6a0" stroke-width="10" fill="none" stroke-linejoin="round" stroke-dasharray="10 10" stroke-dashoffset="0.0"/>
<path d="M1150.0 537.5L1155.5 532.6L1159.0 528.3L1167.5 515.3L1170.0 510.4L1172.3 504.0L1175.0 493.7L1177.0 483.6L1180.5 451.3L1183.0 433.5L1184.0 420.9L1186.3 322.1L1187.3 293.0L1189.5 250.0" stroke="#66c6a0" stroke-width="10" fill="none" stroke-linejoin="round" stroke-dasharray="10 10" stroke-dashoffset="1.1"/>
<path d="M1189.5 250.0L1189.8 244.1L1191.0 231.9L1192.0 227.8L1193.0 232.6L1194.3 245.3L1195.8 277.8L1197.5 446.1L1198.0 471.6L1199.0 496.0L1200.8 518.4L1205.0 555.3L1208.5 571.3L1211.0 577.2L1212.8 579.3L1216.5 580.4L1221.3 580.9L1267.5 581.8L1300.0 583.2" stroke="#66c6a0" stroke-width="10" fill="none" stroke-linejoin="round" stroke-dasharray="10 10" stroke-dashoffset="16.9"/>
<path d="M1300.0 583.2L1300.0 583.2L1325.8 586.3L1329.5 586.1L1334.5 584.5L1336.5 582.8L1337.8 580.5L1339.5 574.8L1341.3 566.8L1343.0 552.5L1347.0 509.4L1348.5 498.6L1349.3 496.4L1350.0 496.9L1350.8 498.2L1351.8 502.0L1354.3 530.6L1356.0 542.0L1358.0 547.8L1361.3 552.6L1364.3 555.6L1366.8 557.4L1376.8 561.4L1392.3 569.0L1400.0 571.2" stroke="#66c6a0" stroke-width="10" fill="none" stroke-linejoin="round" stroke-dasharray="10 10" stroke-dashoffset="0.2"/>
<path d="M1400.0 571.2L1400.8 571.5L1415.3 574.1L1427.0 575.5L1442.8 576.5L1527.0 579.7L1558.8 581.2L1661.5 588.2L1722.5 593.7L1844.5 608.1L1874.3 610.6L1894.3 611.6L1923.8 611.5L1932.5 610.4L1945.3 607.9L1952.5 605.9L1966.3 601.2L1992.3 590.7" stroke="#66c6a0" stroke-width="10" fill="none" stroke-linejoin="round" stroke-dasharray="10 10" stroke-dashoffset="7.4"/>
<path d="M228.3 635.4L243.3 632.7L276.6 627.5L290.3 624.9L314.8 619.2L345.1 611.0L363.8 605.2L458.8 574.1L513.0 554.8L534.5 548.3L555.5 542.6L578.5 537.3L611.8 531.0L633.3 527.8L663.5 524.4L688.5 522.4L713.0 521.8L750.3 521.5L778.5 522.7L815.8 525.3L922.3 536.2L993.0 542.0L1036.5 546.1L1056.8 547.4L1091.8 548.3L1115.8 548.4L1127.0 546.8L1140.0 543.1L1145.8 539.4L1150.0 535.8" stroke="#1a9bb0" stroke-width="10" fill="none" stroke-linejoin="round" stroke-dasharray="10 10" stroke-dashoffset="0.0"/>
<path d="M1150.0 535.8L1155.5 530.9L1159.0 526.5L1167.5 513.5L1170.0 508.6L1172.3 502.2L1175.0 491.9L1177.0 481.8L1180.5 449.6L1183.0 431.7L1184.0 419.1L1186.3 320.3L1187.3 291.2L1189.5 248.1" stroke="#1a9bb0" stroke-width="10" fill="none" stroke-linejoin="round" stroke-dasharray="10 10" stroke-dashoffset="1.2"/>
<path d="M1189.5 248.1L1189.8 242.3L1191.0 230.1L1192.0 226.0L1193.0 230.8L1194.3 243.5L1195.8 276.0L1197.5 444.2L1198.0 469.8L1199.0 494.1L1200.8 516.5L1205.0 553.4L1208.5 569.4L1211.0 575.3L1212.8 577.4L1216.5 578.5L1221.3 579.0L1267.5 579.7L1300.0 581.0" stroke="#1a9bb0" stroke-width="10" fill="none" stroke-linejoin="round" stroke-dasharray="10 10" stroke-dashoffset="4.0"/>
<path d="M1300.0 581.0L1300.0 581.0L1325.8 584.0L1329.5 583.8L1334.5 582.1L1336.5 580.4L1337.8 578.2L1339.5 572.4L1341.3 564.4L1343.0 550.1L1347.0 507.0L1348.5 496.2L1349.3 494.0L1350.0 494.5L1350.8 495.8L1351.8 499.6L1354.3 528.2L1356.0 539.6L1357.8 544.8L1360.8 549.5L1364.0 552.9L1366.8 554.9L1376.8 558.9L1391.3 566.1L1396.8 568.0L1400.0 568.6" stroke="#1a9bb0" stroke-width="10" fill="none" stroke-linejoin="round" stroke-dasharray="10 10" stroke-dashoffset="7.2"/>
<path d="M1400.0 568.6L1410.8 570.9L1425.3 573.1L1443.8 574.9L1489.8 578.9L1552.8 583.7L1631.0 591.0L1690.3 597.3L1740.8 603.7L1778.5 609.5L1796.8 613.2L1827.8 621.5L1856.3 630.7L1880.8 637.7L1892.0 640.3L1901.3 641.5L1916.8 642.0L1925.8 641.8L1936.8 640.4L1947.5 638.2L1952.5 636.1L1964.0 630.4L1975.3 624.2L1983.8 618.4L1992.3 611.0" stroke="#1a9bb0" stroke-width="10" fill="none" stroke-linejoin="round" stroke-dasharray="10 10" stroke-dashoffset="14.3"/></g>
<g clip-path="url(#cb)"><path d="M228.3 814.3L257.8 810.5L299.3 807.9L331.6 807.4L368.8 808.5L380.8 809.2L391.8 810.8L437.6 820.0L460.1 824.9L478.8 829.5L497.6 834.8L521.5 842.4L545.5 850.5L642.3 887.0L690.8 907.1L724.3 920.1L763.8 934.3L804.3 947.7L847.5 961.0L876.5 968.6L918.0 977.2L958.5 984.8L976.0 987.5L1004.5 990.4L1030.0 992.3L1062.8 993.6L1089.0 994.0L1096.5 993.6L1105.3 992.6L1122.5 989.5L1131.8 987.4L1141.5 984.5L1148.5 981.7L1150.0 980.9" stroke="#005a2a" stroke-width="10" fill="none" stroke-linejoin="round" stroke-dasharray="40 40" stroke-dashoffset="0.0"/>
<path d="M1150.0 980.9L1155.0 978.0L1158.5 974.8L1163.3 968.5L1167.0 962.4L1169.5 956.9L1176.8 937.7L1178.3 934.9L1179.5 934.0L1180.8 936.7L1181.8 942.8L1183.0 971.7L1188.3 1190.0L1189.0 1188.8L1190.3 1183.3L1190.5 1181.2" stroke="#005a2a" stroke-width="10" fill="none" stroke-linejoin="round" stroke-dasharray="40 40" stroke-dashoffset="71.9"/>
<path d="M1190.5 1181.2L1193.0 1155.1L1200.0 1098.9L1202.3 1087.6L1205.0 1077.1L1207.0 1071.4L1209.3 1067.3L1216.8 1057.2L1221.3 1052.6L1229.3 1046.7L1238.5 1041.6L1247.3 1037.8L1257.5 1034.3L1267.8 1031.2L1285.0 1026.8L1300.0 1022.1" stroke="#005a2a" stroke-width="10" fill="none" stroke-linejoin="round" stroke-dasharray="40 40" stroke-dashoffset="74.4"/>
<path d="M1300.0 1022.1L1303.8 1020.9L1316.3 1016.0L1323.5 1012.6L1327.0 1010.5L1329.5 1007.9L1331.3 1003.7L1333.8 994.4L1337.0 976.3L1338.3 973.3L1339.3 972.0L1339.8 972.5L1340.5 977.7L1345.0 1025.5L1345.5 1027.1L1347.8 1029.3L1350.0 1030.6L1352.3 1031.0L1362.5 1030.8L1377.0 1029.6L1398.5 1026.2L1400.0 1026.0" stroke="#005a2a" stroke-width="10" fill="none" stroke-linejoin="round" stroke-dasharray="40 40" stroke-dashoffset="54.4"/>
<path d="M1400.0 1026.0L1417.0 1023.8L1551.8 1008.0L1611.8 1000.4L1642.8 995.4L1667.0 990.6L1686.8 985.7L1704.3 979.9L1724.5 971.7L1751.5 959.6L1770.8 949.8L1789.8 939.1L1813.5 924.3L1836.3 908.9L1861.8 890.1L1878.8 876.2L1890.8 865.3L1902.0 853.8L1912.5 841.8L1924.8 826.6L1942.3 802.6L1975.3 753.9L1992.3 730.0" stroke="#005a2a" stroke-width="10" fill="none" stroke-linejoin="round" stroke-dasharray="40 40" stroke-dashoffset="76.6"/>
<path d="M228.3 816.2L257.8 812.4L300.3 809.6L331.6 808.9L376.6 809.5L385.8 810.2L396.6 811.9L434.1 819.2L458.1 824.4L477.6 829.2L496.3 834.4L520.0 841.9L545.0 850.3L642.3 887.0L690.8 907.1L724.5 920.2L764.0 934.4L804.8 947.8L847.8 961.1L876.8 968.6L918.3 977.2L958.5 984.8L976.0 987.5L1004.3 990.4L1029.8 992.3L1062.0 993.6L1088.3 994.0L1095.8 993.7L1104.3 992.7L1122.0 989.6L1130.8 987.7L1140.5 984.8L1148.0 981.9L1150.0 980.8" stroke="#2e0a3f" stroke-width="10" fill="none" stroke-linejoin="round" stroke-dasharray="40 40" stroke-dashoffset="0.0"/>
<path d="M1150.0 980.8L1155.0 978.0L1158.5 974.9L1162.8 969.6L1166.8 963.4L1169.3 958.2L1176.8 938.9L1178.3 936.2L1179.5 935.5L1180.8 938.3L1181.8 944.4L1183.0 973.4L1188.3 1192.2L1189.0 1191.0L1190.3 1185.7L1190.5 1183.7" stroke="#2e0a3f" stroke-width="10" fill="none" stroke-linejoin="round" stroke-dasharray="40 40" stroke-dashoffset="71.9"/>
<path d="M1190.5 1183.7L1193.0 1157.8L1200.0 1102.1L1202.3 1091.1L1205.0 1080.8L1207.0 1075.3L1209.3 1071.3L1216.8 1061.8L1221.3 1057.3L1229.8 1051.4L1238.8 1046.6L1247.3 1043.0L1257.5 1039.6L1267.8 1036.6L1284.8 1032.4L1300.0 1027.7" stroke="#2e0a3f" stroke-width="10" fill="none" stroke-linejoin="round" stroke-dasharray="40 40" stroke-dashoffset="65.3"/>
<path d="M1300.0 1027.7L1303.5 1026.6L1316.3 1021.6L1323.5 1018.3L1327.0 1016.2L1329.5 1013.6L1331.3 1009.5L1333.8 1000.2L1337.0 982.1L1338.3 979.1L1339.3 977.8L1339.8 978.3L1340.5 983.5L1345.0 1031.3L1345.5 1032.9L1347.8 1035.1L1350.0 1036.4L1352.3 1036.8L1362.5 1036.6L1377.0 1035.5L1398.5 1032.2L1400.0 1032.0" stroke="#2e0a3f" stroke-width="10" fill="none" stroke-linejoin="round" stroke-dasharray="40 40" stroke-dashoffset="42.9"/>
<path d="M1400.0 1032.0L1416.0 1030.0L1552.3 1014.5L1613.8 1006.8L1645.5 1001.7L1670.5 996.7L1689.5 991.8L1708.3 985.3L1731.3 975.7L1757.3 963.8L1778.3 952.7L1799.3 940.3L1815.5 929.6L1833.0 916.6L1854.0 899.6L1875.0 881.4L1889.0 868.1L1902.3 854.5L1912.5 842.7L1924.3 827.8L1941.8 803.1L1975.5 751.6L1992.3 727.2" stroke="#2e0a3f" stroke-width="10" fill="none" stroke-linejoin="round" stroke-dasharray="40 40" stroke-dashoffset="60.7"/>
<path d="M228.3 820.8L257.3 816.3L307.3 811.1L331.8 809.9L369.3 809.6L381.6 810.0L393.3 811.4L427.8 818.0L453.1 823.3L474.3 828.3L492.8 833.4L516.0 840.6L542.8 849.5L641.5 886.7L691.5 907.4L728.8 921.8L774.3 937.9L822.3 953.3L856.0 963.4L884.0 970.3L908.8 975.4L953.0 983.8L977.5 987.7L1005.8 990.5L1030.8 992.4L1063.3 993.6L1089.0 994.0L1096.5 993.6L1105.3 992.6L1122.8 989.5L1132.0 987.4L1141.8 984.4L1148.8 981.6L1150.0 980.9" stroke="#6d2b40" stroke-width="10" fill="none" stroke-linejoin="round" stroke-dasharray="40 40" stroke-dashoffset="0.0"/>
<path d="M1150.0 980.9L1155.0 978.0L1158.5 974.8L1163.3 968.5L1167.0 962.4L1169.5 956.9L1176.8 937.7L1178.3 934.9L1179.5 934.0L1180.8 936.7L1181.8 942.8L1183.0 971.7L1188.3 1190.0L1189.0 1188.8L1190.3 1183.3L1190.5 1181.2" stroke="#6d2b40" stroke-width="10" fill="none" stroke-linejoin="round" stroke-dasharray="40 40" stroke-dashoffset="72.1"/>
<path d="M1190.5 1181.2L1193.0 1155.1L1200.0 1098.9L1202.3 1087.6L1205.0 1077.1L1207.0 1071.4L1209.3 1067.3L1216.8 1057.2L1221.3 1052.6L1229.3 1046.7L1238.5 1041.6L1247.3 1037.8L1257.5 1034.3L1267.8 1031.2L1285.0 1026.8L1300.0 1022.1" stroke="#6d2b40" stroke-width="10" fill="none" stroke-linejoin="round" stroke-dasharray="40 40" stroke-dashoffset="74.6"/>
<path d="M1300.0 1022.1L1303.8 1020.9L1316.3 1016.0L1323.5 1012.6L1327.0 1010.5L1329.5 1007.9L1331.3 1003.7L1333.8 994.4L1337.0 976.3L1338.3 973.3L1339.3 972.0L1339.8 972.5L1340.5 977.7L1345.0 1025.5L1345.5 1027.1L1347.8 1029.3L1350.0 1030.6L1352.3 1031.0L1362.5 1030.8L1377.0 1029.6L1398.5 1026.2L1400.0 1026.0" stroke="#6d2b40" stroke-width="10" fill="none" stroke-linejoin="round" stroke-dasharray="40 40" stroke-dashoffset="54.6"/>
<path d="M1400.0 1026.0L1417.0 1023.8L1552.0 1008.0L1612.0 1000.4L1643.0 995.3L1667.3 990.5L1686.8 985.7L1704.5 979.8L1725.5 971.3L1753.0 958.9L1773.3 948.5L1793.3 937.0L1810.0 926.4L1826.5 914.6L1845.0 900.0L1867.0 881.5L1881.5 868.4L1895.3 854.9L1906.0 843.4L1917.8 829.6L1935.0 807.6L1973.8 753.4L1992.3 729.1" stroke="#6d2b40" stroke-width="10" fill="none" stroke-linejoin="round" stroke-dasharray="40 40" stroke-dashoffset="76.8"/>
<path d="M228.3 812.6L257.8 809.2L299.8 807.1L332.6 807.0L371.6 808.5L381.8 809.2L392.3 810.8L439.3 820.3L461.6 825.2L479.8 829.8L498.3 835.0L522.3 842.6L545.8 850.6L642.5 887.1L690.8 907.1L724.0 920.0L763.3 934.1L803.8 947.5L847.3 960.9L876.0 968.4L917.0 977.0L958.0 984.7L975.5 987.5L1004.0 990.4L1029.8 992.3L1062.5 993.6L1089.0 994.0L1096.5 993.6L1105.3 992.6L1122.5 989.5L1131.8 987.4L1141.5 984.5L1148.5 981.7L1150.0 980.9" stroke="#a2093f" stroke-width="10" fill="none" stroke-linejoin="round" stroke-dasharray="40 40" stroke-dashoffset="0.0"/>
<path d="M1150.0 980.9L1155.0 978.0L1158.5 974.8L1163.3 968.5L1167.0 962.4L1169.5 956.9L1176.8 937.7L1178.3 934.9L1179.5 934.0L1180.8 936.7L1181.8 942.8L1183.0 971.7L1188.3 1190.0L1189.0 1188.8L1190.3 1183.3L1190.5 1181.2" stroke="#a2093f" stroke-width="10" fill="none" stroke-linejoin="round" stroke-dasharray="40 40" stroke-dashoffset="71.9"/>
<path d="M1190.5 1181.2L1193.0 1155.1L1200.0 1098.9L1202.3 1087.6L1205.0 1077.1L1207.0 1071.4L1209.3 1067.3L1216.8 1057.2L1221.3 1052.6L1229.3 1046.7L1238.5 1041.6L1247.3 1037.8L1257.5 1034.3L1267.8 1031.2L1285.0 1026.8L1300.0 1022.1" stroke="#a2093f" stroke-width="10" fill="none" stroke-linejoin="round" stroke-dasharray="40 40" stroke-dashoffset="74.3"/>
<path d="M1300.0 1022.1L1303.8 1020.9L1316.3 1016.0L1323.5 1012.6L1327.0 1010.5L1329.5 1007.9L1331.3 1003.7L1333.8 994.4L1337.0 976.3L1338.3 973.3L1339.3 972.0L1339.8 972.5L1340.5 977.7L1345.0 1025.5L1345.5 1027.1L1347.8 1029.3L1350.0 1030.6L1352.3 1031.0L1362.5 1030.8L1377.0 1029.6L1398.5 1026.2L1400.0 1026.0" stroke="#a2093f" stroke-width="10" fill="none" stroke-linejoin="round" stroke-dasharray="40 40" stroke-dashoffset="54.4"/>
<path d="M1400.0 1026.0L1417.0 1023.8L1552.0 1008.0L1612.0 1000.4L1643.0 995.3L1667.3 990.5L1686.8 985.7L1704.5 979.8L1725.5 971.3L1753.0 958.9L1773.3 948.5L1793.3 937.0L1810.0 926.4L1826.5 914.6L1845.0 900.0L1867.0 881.5L1881.5 868.4L1895.3 854.9L1906.0 843.4L1917.8 829.6L1935.0 807.6L1973.8 753.4L1992.3 729.1" stroke="#a2093f" stroke-width="10" fill="none" stroke-linejoin="round" stroke-dasharray="40 40" stroke-dashoffset="76.5"/>
<path d="M228.3 812.6L257.8 809.2L299.8 807.1L332.6 807.0L371.6 808.5L381.8 809.2L392.3 810.8L439.3 820.3L461.6 825.2L479.8 829.8L498.3 835.0L522.3 842.6L545.8 850.6L642.5 887.1L690.8 907.1L724.0 920.0L763.3 934.1L803.8 947.5L847.3 960.9L876.0 968.4L917.0 977.0L958.0 984.7L975.5 987.5L1004.0 990.4L1029.8 992.3L1062.5 993.6L1089.0 994.0L1096.5 993.6L1105.3 992.6L1122.5 989.5L1131.8 987.4L1141.5 984.5L1148.5 981.7L1150.0 980.9" stroke="#e0404f" stroke-width="10" fill="none" stroke-linejoin="round" stroke-dasharray="40 40" stroke-dashoffset="0.0"/>
<path d="M1150.0 980.9L1155.0 978.0L1158.5 974.8L1163.3 968.5L1167.0 962.4L1169.5 956.9L1176.8 937.7L1178.3 934.9L1179.5 934.0L1180.8 936.7L1181.8 942.8L1183.0 971.7L1188.3 1190.0L1189.0 1188.8L1190.3 1183.3L1190.5 1181.2" stroke="#e0404f" stroke-width="10" fill="none" stroke-linejoin="round" stroke-dasharray="40 40" stroke-dashoffset="71.9"/>
<path d="M1190.5 1181.2L1193.0 1155.1L1200.0 1098.9L1202.3 1087.6L1205.0 1077.1L1207.0 1071.4L1209.3 1067.3L1216.8 1057.2L1221.3 1052.6L1229.3 1046.7L1238.5 1041.6L1247.3 1037.8L1257.5 1034.3L1267.8 1031.2L1285.0 1026.8L1300.0 1022.1" stroke="#e0404f" stroke-width="10" fill="none" stroke-linejoin="round" stroke-dasharray="40 40" stroke-dashoffset="74.3"/>
<path d="M1300.0 1022.1L1303.8 1020.9L1316.3 1016.0L1323.5 1012.6L1327.0 1010.5L1329.5 1007.9L1331.3 1003.7L1333.8 994.4L1337.0 976.3L1338.3 973.3L1339.3 972.0L1339.8 972.5L1340.5 977.7L1345.0 1025.5L1345.5 1027.1L1347.8 1029.3L1350.0 1030.6L1352.3 1031.0L1362.5 1030.8L1377.0 1029.6L1398.5 1026.2L1400.0 1026.0" stroke="#e0404f" stroke-width="10" fill="none" stroke-linejoin="round" stroke-dasharray="40 40" stroke-dashoffset="54.4"/>
<path d="M1400.0 1026.0L1417.0 1023.8L1552.0 1008.0L1612.0 1000.4L1643.0 995.3L1667.3 990.5L1686.8 985.7L1704.5 979.8L1725.5 971.3L1753.0 958.9L1773.3 948.5L1793.3 937.0L1810.0 926.4L1826.5 914.6L1845.0 900.0L1867.0 881.5L1881.5 868.4L1895.3 854.9L1906.0 843.4L1917.8 829.6L1935.0 807.6L1973.8 753.4L1992.3 729.1" stroke="#e0404f" stroke-width="10" fill="none" stroke-linejoin="round" stroke-dasharray="40 40" stroke-dashoffset="76.5"/>
<path d="M228.3 813.6L258.1 810.2L301.8 808.2L335.8 808.2L376.3 810.0L384.8 810.9L394.8 812.6L443.1 822.5L469.1 828.5L485.8 832.9L504.3 838.4L532.3 847.4L549.5 853.5L643.5 889.1L690.0 908.5L718.8 919.8L748.8 930.9L783.0 942.7L838.8 960.8L862.0 967.9L913.8 981.2L961.0 995.1L971.0 997.5L979.8 999.0L1006.3 1002.2L1029.5 1004.4L1056.3 1005.9L1082.3 1006.8L1092.0 1006.8L1100.5 1006.2L1120.3 1002.9L1126.0 1001.6L1135.0 998.4L1145.0 993.7L1150.0 990.6" stroke="#f46d43" stroke-width="10" fill="none" stroke-linejoin="round" stroke-dasharray="40 40" stroke-dashoffset="0.0"/>
<path d="M1150.0 990.6L1152.3 989.2L1157.5 984.6L1161.8 979.0L1166.5 971.4L1169.5 964.9L1175.5 948.6L1177.8 943.8L1178.8 942.5L1179.5 942.2L1180.8 945.0L1181.8 951.1L1183.0 980.0L1188.3 1198.7L1189.0 1197.5L1190.3 1192.2L1190.5 1190.1" stroke="#f46d43" stroke-width="10" fill="none" stroke-linejoin="round" stroke-dasharray="40 40" stroke-dashoffset="75.5"/>
<path d="M1190.5 1190.1L1193.0 1164.2L1200.0 1108.6L1202.3 1097.5L1205.0 1087.2L1207.0 1081.7L1209.3 1077.8L1216.8 1068.4L1221.3 1064.1L1229.5 1058.5L1238.5 1053.9L1247.0 1050.5L1257.3 1047.3L1267.8 1044.4L1284.8 1040.5L1300.0 1036.1" stroke="#f46d43" stroke-width="10" fill="none" stroke-linejoin="round" stroke-dasharray="40 40" stroke-dashoffset="55.7"/>
<path d="M1300.0 1036.1L1303.5 1035.1L1316.3 1030.4L1323.5 1027.3L1327.0 1025.2L1329.5 1022.7L1331.3 1018.6L1333.8 1009.4L1337.0 991.4L1338.3 988.4L1339.3 987.1L1339.8 987.6L1340.5 992.8L1344.3 1034.8L1345.3 1041.8L1347.5 1044.4L1350.3 1046.0L1352.3 1046.5L1358.3 1046.6L1379.3 1045.5L1399.8 1042.6L1400.0 1042.6" stroke="#f46d43" stroke-width="10" fill="none" stroke-linejoin="round" stroke-dasharray="40 40" stroke-dashoffset="35.5"/>
<path d="M1400.0 1042.6L1531.5 1027.4L1610.0 1016.5L1645.0 1010.3L1674.0 1004.0L1697.3 997.7L1723.0 989.1L1747.3 980.0L1765.0 972.3L1786.0 961.9L1806.8 950.4L1823.3 939.8L1840.8 927.3L1865.5 908.1L1883.3 893.2L1901.5 876.7L1912.0 866.5L1924.8 852.8L1934.8 840.7L1942.8 830.0L1949.3 820.2L1967.8 788.6L1974.8 777.4L1992.3 753.2" stroke="#f46d43" stroke-width="10" fill="none" stroke-linejoin="round" stroke-dasharray="40 40" stroke-dashoffset="57.7"/>
<path d="M228.3 813.7L257.3 811.4L293.1 811.0L320.6 811.7L354.1 814.2L377.3 816.5L386.8 818.0L457.1 834.4L476.1 839.4L493.3 844.6L513.0 851.3L539.3 860.7L639.3 899.9L655.5 907.0L689.0 922.9L708.8 931.2L740.8 942.9L794.8 960.6L844.8 976.2L861.0 980.7L874.8 984.1L899.8 988.7L966.5 998.5L988.3 1000.7L1019.5 1002.6L1042.8 1003.4L1077.5 1003.6L1090.8 1003.3L1099.0 1002.4L1108.5 1000.6L1123.3 996.9L1134.3 993.3L1145.3 988.8L1150.0 986.2" stroke="#fdae61" stroke-width="10" fill="none" stroke-linejoin="round" stroke-dasharray="40 40" stroke-dashoffset="0.8"/>
<path d="M1150.0 986.2L1152.5 984.9L1157.5 980.9L1162.0 975.3L1166.8 967.7L1169.3 962.3L1176.8 942.3L1178.3 939.5L1179.5 938.6L1180.8 941.3L1181.8 947.3L1183.0 976.2L1188.3 1194.5L1189.0 1193.2L1190.3 1187.7L1190.5 1185.7" stroke="#fdae61" stroke-width="10" fill="none" stroke-linejoin="round" stroke-dasharray="40 40" stroke-dashoffset="75.5"/>
<path d="M1190.5 1185.7L1193.0 1159.5L1200.0 1103.2L1202.3 1091.9L1205.0 1081.4L1207.0 1075.7L1209.3 1071.5L1216.8 1061.4L1221.3 1056.7L1229.3 1050.7L1238.5 1045.5L1247.3 1041.6L1257.5 1037.9L1267.8 1034.7L1285.0 1030.0L1300.0 1025.1" stroke="#fdae61" stroke-width="10" fill="none" stroke-linejoin="round" stroke-dasharray="40 40" stroke-dashoffset="78.4"/>
<path d="M1300.0 1025.1L1303.8 1023.9L1316.3 1018.8L1323.5 1015.3L1327.0 1013.2L1329.5 1010.5L1331.3 1006.4L1333.8 997.0L1337.0 978.9L1338.3 975.9L1339.3 974.6L1339.8 975.1L1340.5 980.2L1345.0 1028.0L1345.5 1029.5L1347.8 1031.7L1350.0 1033.0L1352.3 1033.4L1362.3 1033.1L1376.8 1031.8L1398.5 1028.2L1400.0 1028.0" stroke="#fdae61" stroke-width="10" fill="none" stroke-linejoin="round" stroke-dasharray="40 40" stroke-dashoffset="59.2"/>
<path d="M1400.0 1028.0L1417.5 1025.6L1552.8 1009.1L1612.8 1001.3L1643.5 996.1L1667.8 991.2L1687.0 986.4L1704.8 980.4L1725.8 971.8L1753.3 959.3L1773.5 948.8L1793.5 937.3L1810.3 926.6L1826.5 914.9L1845.0 900.3L1867.0 881.8L1881.5 868.6L1895.3 855.1L1906.0 843.6L1917.8 829.8L1935.0 807.7L1973.8 753.4L1992.3 729.1" stroke="#fdae61" stroke-width="10" fill="none" stroke-linejoin="round" stroke-dasharray="40 40" stroke-dashoffset="1.6"/>
<path d="M228.3 812.6L257.8 809.2L299.8 807.1L332.6 807.0L371.6 808.5L381.8 809.2L392.3 810.8L439.3 820.3L461.6 825.2L479.8 829.8L498.3 835.0L522.3 842.6L545.8 850.6L642.5 887.1L690.8 907.1L724.0 920.0L763.3 934.1L803.8 947.5L847.3 960.9L876.0 968.4L917.0 977.0L958.0 984.7L975.5 987.5L1004.0 990.4L1029.8 992.3L1062.5 993.6L1089.0 994.0L1096.5 993.6L1105.3 992.6L1122.5 989.5L1131.8 987.4L1141.5 984.5L1148.5 981.7L1150.0 980.9" stroke="#fee08b" stroke-width="10" fill="none" stroke-linejoin="round" stroke-dasharray="40 40" stroke-dashoffset="0.0"/>
<path d="M1150.0 980.9L1155.0 978.0L1158.5 974.8L1163.3 968.5L1167.0 962.4L1169.5 956.9L1176.8 937.7L1178.3 934.9L1179.5 934.0L1180.8 936.7L1181.8 942.8L1183.0 971.7L1188.3 1190.0L1189.0 1188.8L1190.3 1183.3L1190.5 1181.2" stroke="#fee08b" stroke-width="10" fill="none" stroke-linejoin="round" stroke-dasharray="40 40" stroke-dashoffset="71.9"/>
<path d="M1190.5 1181.2L1193.0 1155.1L1200.0 1098.9L1202.3 1087.6L1205.0 1077.1L1207.0 1071.4L1209.3 1067.3L1216.8 1057.2L1221.3 1052.6L1229.3 1046.7L1238.5 1041.6L1247.3 1037.8L1257.5 1034.3L1267.8 1031.2L1285.0 1026.8L1300.0 1022.1" stroke="#fee08b" stroke-width="10" fill="none" stroke-linejoin="round" stroke-dasharray="40 40" stroke-dashoffset="74.3"/>
<path d="M1300.0 1022.1L1303.8 1020.9L1316.3 1016.0L1323.5 1012.6L1327.0 1010.5L1329.5 1007.9L1331.3 1003.7L1333.8 994.4L1337.0 976.3L1338.3 973.3L1339.3 972.0L1339.8 972.5L1340.5 977.7L1345.0 1025.5L1345.5 1027.1L1347.8 1029.3L1350.0 1030.6L1352.3 1031.0L1362.5 1030.8L1377.0 1029.6L1398.5 1026.2L1400.0 1026.0" stroke="#fee08b" stroke-width="10" fill="none" stroke-linejoin="round" stroke-dasharray="40 40" stroke-dashoffset="54.4"/>
<path d="M1400.0 1026.0L1417.0 1023.8L1551.5 1008.0L1611.3 1000.5L1641.8 995.6L1666.0 990.8L1685.8 986.0L1703.0 980.3L1723.8 972.0L1751.8 959.5L1771.8 949.3L1791.8 937.9L1810.0 926.4L1828.0 913.8L1849.0 897.7L1872.0 879.0L1886.3 866.3L1899.8 853.2L1910.0 842.2L1921.5 828.7L1937.5 808.1L1974.0 757.0L1992.3 733.1" stroke="#fee08b" stroke-width="10" fill="none" stroke-linejoin="round" stroke-dasharray="40 40" stroke-dashoffset="76.5"/>
<path d="M228.3 812.6L257.8 809.2L299.8 807.1L332.6 807.0L371.6 808.5L381.8 809.2L392.3 810.8L439.3 820.3L461.6 825.2L479.8 829.8L498.3 835.0L522.3 842.6L545.8 850.6L642.5 887.1L690.8 907.1L724.0 920.0L763.3 934.1L803.8 947.5L847.3 960.9L876.0 968.4L917.0 977.0L958.0 984.7L975.5 987.5L1004.0 990.4L1029.8 992.3L1062.5 993.6L1089.0 994.0L1096.5 993.6L1105.3 992.6L1122.5 989.5L1131.8 987.4L1141.5 984.5L1148.5 981.7L1150.0 980.9" stroke="#e6f598" stroke-width="10" fill="none" stroke-linejoin="round" stroke-dasharray="40 40" stroke-dashoffset="0.0"/>
<path d="M1150.0 980.9L1155.0 978.0L1158.5 974.8L1163.3 968.5L1167.0 962.4L1169.5 956.9L1176.8 937.7L1178.3 934.9L1179.5 934.0L1180.8 936.7L1181.8 942.8L1183.0 971.7L1188.3 1190.0L1189.0 1188.8L1190.3 1183.3L1190.5 1181.2" stroke="#e6f598" stroke-width="10" fill="none" stroke-linejoin="round" stroke-dasharray="40 40" stroke-dashoffset="71.9"/>
<path d="M1190.5 1181.2L1193.0 1155.1L1200.0 1098.9L1202.3 1087.6L1205.0 1077.1L1207.0 1071.4L1209.3 1067.3L1216.8 1057.2L1221.3 1052.6L1229.3 1046.7L1238.5 1041.6L1247.3 1037.8L1257.5 1034.3L1267.8 1031.2L1285.0 1026.8L1300.0 1022.1" stroke="#e6f598" stroke-width="10" fill="none" stroke-linejoin="round" stroke-dasharray="40 40" stroke-dashoffset="74.3"/>
<path d="M1300.0 1022.1L1303.8 1020.9L1316.3 1016.0L1323.5 1012.6L1327.0 1010.5L1329.5 1007.9L1331.3 1003.7L1333.8 994.4L1337.0 976.3L1338.3 973.3L1339.3 972.0L1339.8 972.5L1340.5 977.7L1345.0 1025.5L1345.5 1027.1L1347.8 1029.3L1350.0 1030.6L1352.3 1031.0L1362.5 1030.8L1377.0 1029.6L1398.5 1026.2L1400.0 1026.0" stroke="#e6f598" stroke-width="10" fill="none" stroke-linejoin="round" stroke-dasharray="40 40" stroke-dashoffset="54.4"/>
<path d="M1400.0 1026.0L1417.0 1023.8L1552.0 1008.0L1612.0 1000.4L1643.0 995.3L1667.3 990.5L1686.8 985.7L1704.5 979.8L1725.5 971.3L1753.0 958.9L1773.3 948.5L1793.3 937.0L1810.0 926.4L1826.5 914.6L1845.0 900.0L1867.0 881.5L1881.5 868.4L1895.3 854.9L1906.0 843.4L1917.8 829.6L1935.0 807.6L1973.8 753.4L1992.3 729.1" stroke="#e6f598" stroke-width="10" fill="none" stroke-linejoin="round" stroke-dasharray="40 40" stroke-dashoffset="76.5"/>
<path d="M228.3 812.6L257.8 809.2L299.8 807.1L332.6 807.0L371.6 808.5L381.8 809.2L392.3 810.8L439.3 820.3L461.6 825.2L479.8 829.8L498.3 835.0L522.3 842.6L545.8 850.6L642.5 887.1L690.8 907.1L724.0 920.0L763.3 934.1L803.8 947.5L847.3 960.9L876.0 968.4L917.0 977.0L958.0 984.7L975.5 987.5L1004.0 990.4L1029.8 992.3L1062.5 993.6L1089.0 994.0L1096.5 993.6L1105.3 992.6L1122.5 989.5L1131.8 987.4L1141.5 984.5L1148.5 981.7L1150.0 980.9" stroke="#b0dd9c" stroke-width="10" fill="none" stroke-linejoin="round" stroke-dasharray="40 40" stroke-dashoffset="0.0"/>
<path d="M1150.0 980.9L1155.0 978.0L1158.5 974.8L1163.3 968.5L1167.0 962.4L1169.5 956.9L1176.8 937.7L1178.3 934.9L1179.5 934.0L1180.8 936.7L1181.8 942.8L1183.0 971.7L1188.3 1190.0L1189.0 1188.8L1190.3 1183.3L1190.5 1181.2" stroke="#b0dd9c" stroke-width="10" fill="none" stroke-linejoin="round" stroke-dasharray="40 40" stroke-dashoffset="71.9"/>
<path d="M1190.5 1181.2L1193.0 1155.1L1200.0 1098.9L1202.3 1087.6L1205.0 1077.1L1207.0 1071.4L1209.3 1067.3L1216.8 1057.2L1221.3 1052.6L1229.3 1046.7L1238.5 1041.6L1247.3 1037.8L1257.5 1034.3L1267.8 1031.2L1285.0 1026.8L1300.0 1022.1" stroke="#b0dd9c" stroke-width="10" fill="none" stroke-linejoin="round" stroke-dasharray="40 40" stroke-dashoffset="74.3"/>
<path d="M1300.0 1022.1L1303.8 1020.9L1316.3 1016.0L1323.5 1012.6L1327.0 1010.5L1329.5 1007.9L1331.3 1003.7L1333.8 994.4L1337.0 976.3L1338.3 973.3L1339.3 972.0L1339.8 972.5L1340.5 977.7L1345.0 1025.5L1345.5 1027.1L1347.8 1029.3L1350.0 1030.6L1352.3 1031.0L1362.5 1030.8L1377.0 1029.6L1398.5 1026.2L1400.0 1026.0" stroke="#b0dd9c" stroke-width="10" fill="none" stroke-linejoin="round" stroke-dasharray="40 40" stroke-dashoffset="54.4"/>
<path d="M1400.0 1026.0L1416.8 1023.8L1552.3 1007.9L1613.3 1000.2L1644.5 995.1L1669.3 990.1L1688.5 985.2L1706.8 978.9L1728.5 970.0L1755.3 957.8L1775.8 947.1L1796.0 935.3L1812.0 925.0L1828.3 913.1L1846.5 898.4L1867.5 880.3L1882.3 866.6L1896.3 852.5L1907.3 840.3L1919.5 825.5L1938.5 800.2L1975.8 746.3L1992.3 723.6" stroke="#b0dd9c" stroke-width="10" fill="none" stroke-linejoin="round" stroke-dasharray="40 40" stroke-dashoffset="76.5"/>
<path d="M228.3 812.6L257.8 809.2L299.8 807.1L332.6 807.0L371.6 808.5L381.8 809.2L392.3 810.8L439.3 820.3L461.6 825.2L479.8 829.8L498.3 835.0L522.3 842.6L545.8 850.6L642.5 887.1L690.8 907.1L724.0 920.0L763.3 934.1L803.8 947.5L847.3 960.9L876.0 968.4L917.0 977.0L958.0 984.7L975.5 987.5L1004.0 990.4L1029.8 992.3L1062.5 993.6L1089.0 994.0L1096.5 993.6L1105.3 992.6L1122.5 989.5L1131.8 987.4L1141.5 984.5L1148.5 981.7L1150.0 980.9" stroke="#66c6a0" stroke-width="10" fill="none" stroke-linejoin="round" stroke-dasharray="40 40" stroke-dashoffset="0.0"/>
<path d="M1150.0 980.9L1155.0 978.0L1158.5 974.8L1163.3 968.5L1167.0 962.4L1169.5 956.9L1176.8 937.7L1178.3 934.9L1179.5 934.0L1180.8 936.7L1181.8 942.8L1183.0 971.7L1188.3 1190.0L1189.0 1188.8L1190.3 1183.3L1190.5 1181.2" stroke="#66c6a0" stroke-width="10" fill="none" stroke-linejoin="round" stroke-dasharray="40 40" stroke-dashoffset="71.9"/>
<path d="M1190.5 1181.2L1193.0 1155.1L1200.0 1098.9L1202.3 1087.6L1205.0 1077.1L1207.0 1071.4L1209.3 1067.3L1216.8 1057.2L1221.3 1052.6L1229.3 1046.7L1238.5 1041.6L1247.3 1037.8L1257.5 1034.3L1267.8 1031.2L1285.0 1026.8L1300.0 1022.1" stroke="#66c6a0" stroke-width="10" fill="none" stroke-linejoin="round" stroke-dasharray="40 40" stroke-dashoffset="74.3"/>
<path d="M1300.0 1022.1L1303.8 1020.9L1316.3 1016.0L1323.5 1012.6L1327.0 1010.5L1329.5 1007.9L1331.3 1003.7L1333.8 994.4L1337.0 976.3L1338.3 973.3L1339.3 972.0L1339.8 972.5L1340.5 977.7L1345.0 1025.5L1345.5 1027.1L1347.8 1029.3L1350.0 1030.6L1352.3 1031.0L1362.5 1030.8L1377.0 1029.6L1398.5 1026.2L1400.0 1026.0" stroke="#66c6a0" stroke-width="10" fill="none" stroke-linejoin="round" stroke-dasharray="40 40" stroke-dashoffset="54.4"/>
<path d="M1400.0 1026.0L1417.0 1023.8L1552.0 1008.0L1612.0 1000.4L1643.0 995.3L1667.3 990.5L1686.8 985.7L1704.5 979.8L1725.5 971.3L1753.0 958.9L1773.3 948.5L1793.3 937.0L1810.0 926.4L1826.5 914.6L1845.0 900.0L1867.0 881.5L1881.5 868.4L1895.3 854.9L1906.0 843.4L1917.8 829.6L1935.0 807.6L1973.8 753.4L1992.3 729.1" stroke="#66c6a0" stroke-width="10" fill="none" stroke-linejoin="round" stroke-dasharray="40 40" stroke-dashoffset="76.5"/>
<path d="M228.3 812.6L257.8 809.2L299.8 807.1L332.6 807.0L371.6 808.5L381.8 809.2L392.3 810.8L439.3 820.3L461.6 825.2L479.8 829.8L498.3 835.0L522.3 842.6L545.8 850.6L642.5 887.1L690.8 907.1L724.0 920.0L763.3 934.1L803.8 947.5L847.3 960.9L876.0 968.4L917.0 977.0L958.0 984.7L975.5 987.5L1004.0 990.4L1029.8 992.3L1062.5 993.6L1089.0 994.0L1096.5 993.6L1105.3 992.6L1122.5 989.5L1131.8 987.4L1141.5 984.5L1148.5 981.7L1150.0 980.9" stroke="#1a9bb0" stroke-width="10" fill="none" stroke-linejoin="round" stroke-dasharray="40 40" stroke-dashoffset="0.0"/>
<path d="M1150.0 980.9L1155.0 978.0L1158.5 974.8L1163.3 968.5L1167.0 962.4L1169.5 956.9L1176.8 937.7L1178.3 934.9L1179.5 934.0L1180.8 936.7L1181.8 942.8L1183.0 971.7L1188.3 1190.0L1189.0 1188.8L1190.3 1183.3L1190.5 1181.2" stroke="#1a9bb0" stroke-width="10" fill="none" stroke-linejoin="round" stroke-dasharray="40 40" stroke-dashoffset="71.9"/>
<path d="M1190.5 1181.2L1193.0 1155.1L1200.0 1098.9L1202.3 1087.6L1205.0 1077.1L1207.0 1071.4L1209.3 1067.3L1216.8 1057.2L1221.3 1052.6L1229.3 1046.7L1238.5 1041.6L1247.3 1037.8L1257.5 1034.3L1267.8 1031.2L1285.0 1026.8L1300.0 1022.1" stroke="#1a9bb0" stroke-width="10" fill="none" stroke-linejoin="round" stroke-dasharray="40 40" stroke-dashoffset="74.3"/>
<path d="M1300.0 1022.1L1303.8 1020.9L1316.3 1016.0L1323.5 1012.6L1327.0 1010.5L1329.5 1007.9L1331.3 1003.7L1333.8 994.4L1337.0 976.3L1338.3 973.3L1339.3 972.0L1339.8 972.5L1340.5 977.7L1345.0 1025.5L1345.5 1027.1L1347.8 1029.3L1350.0 1030.6L1352.3 1031.0L1362.5 1030.8L1377.0 1029.6L1398.5 1026.2L1400.0 1026.0" stroke="#1a9bb0" stroke-width="10" fill="none" stroke-linejoin="round" stroke-dasharray="40 40" stroke-dashoffset="54.4"/>
<path d="M1400.0 1026.0L1417.3 1023.8L1551.3 1008.1L1610.5 1000.6L1640.8 995.7L1664.8 991.1L1685.0 986.2L1701.8 980.8L1722.3 972.7L1750.3 960.2L1770.0 950.2L1789.8 939.1L1807.8 927.9L1824.3 916.4L1843.3 901.9L1866.3 883.1L1880.5 870.7L1893.8 858.2L1904.8 847.0L1915.8 834.7L1934.5 811.6L1974.0 758.6L1992.3 736.4" stroke="#1a9bb0" stroke-width="10" fill="none" stroke-linejoin="round" stroke-dasharray="40 40" stroke-dashoffset="76.5"/>
<path d="M228.3 812.6L257.8 809.2L299.8 807.1L332.6 807.0L371.6 808.5L381.8 809.2L392.3 810.8L439.3 820.3L461.6 825.2L479.8 829.8L498.3 835.0L522.3 842.6L545.8 850.6L642.5 887.1L690.8 907.1L724.0 920.0L763.3 934.1L803.8 947.5L847.3 960.9L876.0 968.4L917.0 977.0L958.0 984.7L975.5 987.5L1004.0 990.4L1029.8 992.3L1062.0 993.6L1088.5 994.0L1096.0 993.7L1104.5 992.7L1122.3 989.6L1131.3 987.6L1140.8 984.7L1148.0 981.9L1154.3 978.5L1158.0 975.3L1161.5 971.0L1165.8 964.7L1176.8 942.2L1180.5 935.2L1182.0 934.0L1183.3 936.7L1184.3 942.8L1185.5 971.7L1190.8 1190.0L1191.5 1188.8L1192.8 1183.3L1195.8 1153.0L1201.0 1109.3L1203.0 1096.1L1205.5 1084.5L1209.0 1072.2L1211.5 1065.7L1215.0 1059.6L1219.5 1054.2L1224.8 1049.8L1233.0 1044.5L1242.0 1040.0L1250.0 1036.8L1259.8 1033.6L1284.5 1026.9L1302.8 1021.2L1315.5 1016.3L1323.3 1012.7L1326.8 1010.7L1330.8 1007.1L1334.0 1000.6L1336.5 992.8L1339.5 976.3L1340.8 973.3L1341.8 972.0L1342.3 972.5L1343.0 977.7L1347.5 1025.5L1348.0 1027.1L1350.3 1029.3L1352.5 1030.6L1354.8 1031.0L1363.8 1030.7L1377.0 1029.6L1398.5 1026.2L1416.8 1023.8L1552.3 1007.9L1613.0 1000.2L1643.8 995.2L1668.0 990.4L1687.3 985.5L1705.0 979.6L1726.0 971.1L1753.5 958.6L1773.8 948.2L1793.8 936.7L1810.3 926.2L1826.8 914.4L1845.3 899.8L1867.3 881.3L1881.8 868.1L1895.5 854.6L1906.3 843.1L1918.0 829.3L1935.0 807.6L1973.8 753.4L1992.3 729.1" stroke="#455ea8" stroke-width="10" fill="none" stroke-linejoin="round"/>
<path d="M228.3 812.6L257.8 809.2L299.8 807.1L332.6 807.0L371.6 808.5L381.8 809.2L392.3 810.8L439.3 820.3L461.6 825.2L479.8 829.8L498.3 835.0L522.3 842.6L545.8 850.6L642.5 887.1L690.8 907.1L724.0 920.0L763.3 934.1L803.8 947.5L847.3 960.9L876.0 968.4L917.0 977.0L958.0 984.7L975.5 987.5L1003.8 990.4L1029.5 992.3L1061.5 993.5L1088.0 994.0L1095.5 993.7L1104.0 992.7L1122.0 989.6L1130.8 987.7L1140.0 985.0L1147.5 982.2L1150.0 980.9" stroke="#005a2a" stroke-width="10" fill="none" stroke-linejoin="round" stroke-dasharray="10 10" stroke-dashoffset="0.0"/>
<path d="M1150.0 980.9L1153.5 979.0L1157.5 975.8L1161.0 971.7L1165.0 965.9L1170.3 956.2L1176.3 947.9L1182.8 935.6L1183.8 934.3L1184.5 934.0L1185.8 936.7L1186.8 942.8L1188.0 971.7L1190.5 1073.5" stroke="#005a2a" stroke-width="10" fill="none" stroke-linejoin="round" stroke-dasharray="10 10" stroke-dashoffset="11.9"/>
<path d="M1190.5 1073.5L1193.3 1190.0L1194.0 1188.8L1195.3 1183.3L1198.0 1155.1L1205.0 1098.9L1208.0 1082.4L1210.8 1069.8L1212.8 1063.8L1215.0 1059.6L1219.3 1054.5L1224.5 1050.0L1232.8 1044.6L1241.5 1040.2L1249.5 1037.0L1259.0 1033.8L1285.0 1026.8L1300.0 1022.0" stroke="#005a2a" stroke-width="10" fill="none" stroke-linejoin="round" stroke-dasharray="10 10" stroke-dashoffset="11.0"/>
<path d="M1300.0 1022.0L1305.3 1020.4L1322.5 1013.1L1332.3 1007.5L1334.8 1004.5L1337.8 997.1L1339.0 992.8L1342.0 976.3L1343.3 973.3L1344.3 972.0L1344.8 972.5L1345.5 977.7L1350.0 1025.5L1350.5 1027.1L1352.0 1028.6L1354.3 1030.4L1356.0 1031.0L1377.3 1029.6L1398.5 1026.2L1400.0 1026.0" stroke="#005a2a" stroke-width="10" fill="none" stroke-linejoin="round" stroke-dasharray="10 10" stroke-dashoffset="14.8"/>
<path d="M1400.0 1026.0L1416.5 1023.9L1552.5 1007.9L1613.8 1000.1L1644.5 995.1L1668.5 990.3L1687.5 985.5L1705.3 979.5L1726.3 970.9L1753.5 958.6L1773.8 948.2L1793.8 936.7L1810.3 926.2L1826.8 914.4L1845.3 899.8L1867.3 881.3L1881.8 868.1L1895.5 854.6L1906.3 843.1L1918.0 829.3L1935.0 807.6L1973.8 753.4L1992.3 729.1" stroke="#005a2a" stroke-width="10" fill="none" stroke-linejoin="round" stroke-dasharray="10 10" stroke-dashoffset="15.0"/>
<path d="M228.3 812.6L257.8 809.2L299.8 807.1L332.6 807.0L371.6 808.5L381.8 809.2L392.3 810.8L439.3 820.3L461.6 825.2L479.8 829.8L498.3 835.0L522.3 842.6L545.8 850.6L642.5 887.1L690.8 907.1L724.0 920.0L763.3 934.1L803.8 947.5L847.3 960.9L876.0 968.4L917.0 977.0L958.0 984.7L975.5 987.5L1003.8 990.4L1029.5 992.3L1061.5 993.5L1088.0 994.0L1095.5 993.7L1104.0 992.7L1122.0 989.6L1130.8 987.7L1140.0 985.0L1147.5 982.2L1150.0 980.9" stroke="#2e0a3f" stroke-width="10" fill="none" stroke-linejoin="round" stroke-dasharray="10 10" stroke-dashoffset="0.0"/>
<path d="M1150.0 980.9L1153.5 979.0L1157.5 975.8L1161.0 971.7L1165.0 965.9L1170.3 956.2L1176.3 947.9L1182.8 935.6L1183.8 934.3L1184.5 934.0L1185.8 936.7L1186.8 942.8L1188.0 971.7L1190.5 1073.5" stroke="#2e0a3f" stroke-width="10" fill="none" stroke-linejoin="round" stroke-dasharray="10 10" stroke-dashoffset="11.9"/>
<path d="M1190.5 1073.5L1193.3 1190.0L1194.0 1188.8L1195.3 1183.3L1198.0 1155.1L1205.0 1098.9L1208.0 1082.4L1210.8 1069.8L1212.8 1063.8L1215.0 1059.6L1219.3 1054.5L1224.5 1050.0L1232.8 1044.6L1241.5 1040.2L1249.5 1037.0L1259.0 1033.8L1285.0 1026.8L1300.0 1022.0" stroke="#2e0a3f" stroke-width="10" fill="none" stroke-linejoin="round" stroke-dasharray="10 10" stroke-dashoffset="11.0"/>
<path d="M1300.0 1022.0L1305.3 1020.4L1322.5 1013.1L1332.3 1007.5L1334.8 1004.5L1337.8 997.1L1339.0 992.8L1342.0 976.3L1343.3 973.3L1344.3 972.0L1344.8 972.5L1345.5 977.7L1350.0 1025.5L1350.5 1027.1L1352.0 1028.6L1354.3 1030.4L1356.0 1031.0L1377.3 1029.6L1398.5 1026.2L1400.0 1026.0" stroke="#2e0a3f" stroke-width="10" fill="none" stroke-linejoin="round" stroke-dasharray="10 10" stroke-dashoffset="14.8"/>
<path d="M1400.0 1026.0L1416.5 1023.9L1552.5 1007.9L1613.8 1000.1L1644.5 995.1L1668.5 990.3L1687.5 985.5L1705.3 979.5L1726.3 970.9L1753.5 958.6L1773.8 948.2L1793.8 936.7L1810.3 926.2L1826.8 914.4L1845.3 899.8L1867.3 881.3L1881.8 868.1L1895.5 854.6L1906.3 843.1L1918.0 829.3L1935.0 807.6L1973.8 753.4L1992.3 729.1" stroke="#2e0a3f" stroke-width="10" fill="none" stroke-linejoin="round" stroke-dasharray="10 10" stroke-dashoffset="15.0"/>
<path d="M228.3 812.6L257.8 809.2L299.8 807.1L332.6 807.0L371.6 808.5L381.8 809.2L392.3 810.8L439.3 820.3L461.6 825.2L479.8 829.8L498.3 835.0L522.3 842.6L545.8 850.6L642.5 887.1L690.8 907.1L724.0 920.0L763.3 934.1L803.8 947.5L847.3 960.9L876.0 968.4L917.0 977.0L958.0 984.7L975.5 987.5L1003.8 990.4L1029.5 992.3L1061.5 993.5L1088.0 994.0L1095.5 993.7L1104.0 992.7L1122.0 989.6L1130.8 987.7L1140.0 985.0L1147.5 982.2L1150.0 980.9" stroke="#6d2b40" stroke-width="10" fill="none" stroke-linejoin="round" stroke-dasharray="10 10" stroke-dashoffset="0.0"/>
<path d="M1150.0 980.9L1153.5 979.0L1157.5 975.8L1161.0 971.7L1165.0 965.9L1170.3 956.2L1176.3 947.9L1182.8 935.6L1183.8 934.3L1184.5 934.0L1185.8 936.7L1186.8 942.8L1188.0 971.7L1190.5 1073.5" stroke="#6d2b40" stroke-width="10" fill="none" stroke-linejoin="round" stroke-dasharray="10 10" stroke-dashoffset="11.9"/>
<path d="M1190.5 1073.5L1193.3 1190.0L1194.0 1188.8L1195.3 1183.3L1198.0 1155.1L1205.0 1098.9L1208.0 1082.4L1210.8 1069.8L1212.8 1063.8L1215.0 1059.6L1219.3 1054.5L1224.5 1050.0L1232.8 1044.6L1241.5 1040.2L1249.5 1037.0L1259.0 1033.8L1285.0 1026.8L1300.0 1022.0" stroke="#6d2b40" stroke-width="10" fill="none" stroke-linejoin="round" stroke-dasharray="10 10" stroke-dashoffset="11.0"/>
<path d="M1300.0 1022.0L1305.3 1020.4L1322.5 1013.1L1332.3 1007.5L1334.8 1004.5L1337.8 997.1L1339.0 992.8L1342.0 976.3L1343.3 973.3L1344.3 972.0L1344.8 972.5L1345.5 977.7L1350.0 1025.5L1350.5 1027.1L1352.0 1028.6L1354.3 1030.4L1356.0 1031.0L1377.3 1029.6L1398.5 1026.2L1400.0 1026.0" stroke="#6d2b40" stroke-width="10" fill="none" stroke-linejoin="round" stroke-dasharray="10 10" stroke-dashoffset="14.8"/>
<path d="M1400.0 1026.0L1416.5 1023.9L1552.5 1007.9L1613.8 1000.1L1644.5 995.1L1668.5 990.3L1687.5 985.5L1705.3 979.5L1726.3 970.9L1753.5 958.6L1773.8 948.2L1793.8 936.7L1810.3 926.2L1826.8 914.4L1845.3 899.8L1867.3 881.3L1881.8 868.1L1895.5 854.6L1906.3 843.1L1918.0 829.3L1935.0 807.6L1973.8 753.4L1992.3 729.1" stroke="#6d2b40" stroke-width="10" fill="none" stroke-linejoin="round" stroke-dasharray="10 10" stroke-dashoffset="15.0"/>
<path d="M228.3 812.6L257.8 809.2L299.8 807.1L332.6 807.0L371.6 808.5L381.8 809.2L392.3 810.8L439.3 820.3L461.6 825.2L479.8 829.8L498.3 835.0L522.3 842.6L545.8 850.6L642.5 887.1L690.8 907.1L724.0 920.0L763.3 934.1L803.8 947.5L847.3 960.9L876.0 968.4L917.0 977.0L958.0 984.7L975.5 987.5L1003.8 990.4L1029.5 992.3L1061.5 993.5L1088.0 994.0L1095.5 993.7L1104.0 992.7L1122.0 989.6L1130.8 987.7L1140.0 985.0L1147.5 982.2L1150.0 980.9" stroke="#a2093f" stroke-width="10" fill="none" stroke-linejoin="round" stroke-dasharray="10 10" stroke-dashoffset="0.0"/>
<path d="M1150.0 980.9L1153.5 979.0L1157.5 975.8L1161.0 971.7L1165.0 965.9L1170.3 956.2L1176.3 947.9L1182.8 935.6L1183.8 934.3L1184.5 934.0L1185.8 936.7L1186.8 942.8L1188.0 971.7L1190.5 1073.5" stroke="#a2093f" stroke-width="10" fill="none" stroke-linejoin="round" stroke-dasharray="10 10" stroke-dashoffset="11.9"/>
<path d="M1190.5 1073.5L1193.3 1190.0L1194.0 1188.8L1195.3 1183.3L1198.0 1155.1L1205.0 1098.9L1208.0 1082.4L1210.8 1069.8L1212.8 1063.8L1215.0 1059.6L1219.3 1054.5L1224.5 1050.0L1232.8 1044.6L1241.5 1040.2L1249.5 1037.0L1259.0 1033.8L1285.0 1026.8L1300.0 1022.0" stroke="#a2093f" stroke-width="10" fill="none" stroke-linejoin="round" stroke-dasharray="10 10" stroke-dashoffset="11.0"/>
<path d="M1300.0 1022.0L1305.3 1020.4L1322.5 1013.1L1332.3 1007.5L1334.8 1004.5L1337.8 997.1L1339.0 992.8L1342.0 976.3L1343.3 973.3L1344.3 972.0L1344.8 972.5L1345.5 977.7L1350.0 1025.5L1350.5 1027.1L1352.0 1028.6L1354.3 1030.4L1356.0 1031.0L1377.3 1029.6L1398.5 1026.2L1400.0 1026.0" stroke="#a2093f" stroke-width="10" fill="none" stroke-linejoin="round" stroke-dasharray="10 10" stroke-dashoffset="14.8"/>
<path d="M1400.0 1026.0L1416.5 1023.9L1552.5 1007.9L1613.8 1000.1L1644.5 995.1L1668.5 990.3L1687.5 985.5L1705.3 979.5L1726.3 970.9L1753.5 958.6L1773.8 948.2L1793.8 936.7L1810.3 926.2L1826.8 914.4L1845.3 899.8L1867.3 881.3L1881.8 868.1L1895.5 854.6L1906.3 843.1L1918.0 829.3L1935.0 807.6L1973.8 753.4L1992.3 729.1" stroke="#a2093f" stroke-width="10" fill="none" stroke-linejoin="round" stroke-dasharray="10 10" stroke-dashoffset="15.0"/>
<path d="M228.3 812.6L257.8 809.2L299.8 807.1L332.6 807.0L371.6 808.5L381.8 809.2L392.3 810.8L439.3 820.3L461.6 825.2L479.8 829.8L498.3 835.0L522.3 842.6L545.8 850.6L642.5 887.1L690.8 907.1L724.0 920.0L763.3 934.1L803.8 947.5L847.3 960.9L876.0 968.4L917.0 977.0L958.0 984.7L975.5 987.5L1003.8 990.4L1029.5 992.3L1061.5 993.5L1088.0 994.0L1095.5 993.7L1104.0 992.7L1122.0 989.6L1130.8 987.7L1140.0 985.0L1147.5 982.2L1150.0 980.9" stroke="#e0404f" stroke-width="10" fill="none" stroke-linejoin="round" stroke-dasharray="10 10" stroke-dashoffset="0.0"/>
<path d="M1150.0 980.9L1153.5 979.0L1157.5 975.8L1161.0 971.7L1165.0 965.9L1170.3 956.2L1176.3 947.9L1182.8 935.6L1183.8 934.3L1184.5 934.0L1185.8 936.7L1186.8 942.8L1188.0 971.7L1190.5 1073.5" stroke="#e0404f" stroke-width="10" fill="none" stroke-linejoin="round" stroke-dasharray="10 10" stroke-dashoffset="11.9"/>
<path d="M1190.5 1073.5L1193.3 1190.0L1194.0 1188.8L1195.3 1183.3L1198.0 1155.1L1205.0 1098.9L1208.0 1082.4L1210.8 1069.8L1212.8 1063.8L1215.0 1059.6L1219.3 1054.5L1224.5 1050.0L1232.8 1044.6L1241.5 1040.2L1249.5 1037.0L1259.0 1033.8L1285.0 1026.8L1300.0 1022.0" stroke="#e0404f" stroke-width="10" fill="none" stroke-linejoin="round" stroke-dasharray="10 10" stroke-dashoffset="11.0"/>
<path d="M1300.0 1022.0L1305.3 1020.4L1322.5 1013.1L1332.3 1007.5L1334.8 1004.5L1337.8 997.1L1339.0 992.8L1342.0 976.3L1343.3 973.3L1344.3 972.0L1344.8 972.5L1345.5 977.7L1350.0 1025.5L1350.5 1027.1L1352.0 1028.6L1354.3 1030.4L1356.0 1031.0L1377.3 1029.6L1398.5 1026.2L1400.0 1026.0" stroke="#e0404f" stroke-width="10" fill="none" stroke-linejoin="round" stroke-dasharray="10 10" stroke-dashoffset="14.8"/>
<path d="M1400.0 1026.0L1416.5 1023.9L1552.5 1007.9L1613.8 1000.1L1644.5 995.1L1668.5 990.3L1687.5 985.5L1705.3 979.5L1726.3 970.9L1753.5 958.6L1773.8 948.2L1793.8 936.7L1810.3 926.2L1826.8 914.4L1845.3 899.8L1867.3 881.3L1881.8 868.1L1895.5 854.6L1906.3 843.1L1918.0 829.3L1935.0 807.6L1973.8 753.4L1992.3 729.1" stroke="#e0404f" stroke-width="10" fill="none" stroke-linejoin="round" stroke-dasharray="10 10" stroke-dashoffset="15.0"/>
<path d="M228.3 811.5L257.8 808.0L299.3 805.7L331.6 805.5L370.1 806.8L381.1 807.5L391.8 809.1L460.3 823.1L479.1 827.6L497.6 832.8L521.3 840.2L545.3 848.2L642.3 884.6L690.8 904.6L723.8 917.3L763.3 931.3L803.8 944.5L846.0 957.2L874.8 964.4L913.8 972.1L957.8 979.9L974.8 982.4L1003.5 985.2L1029.5 986.9L1061.0 988.0L1087.3 988.3L1095.0 988.0L1103.5 987.0L1121.8 983.7L1130.3 981.7L1139.3 979.0L1147.0 976.0L1150.0 974.5" stroke="#f46d43" stroke-width="10" fill="none" stroke-linejoin="round" stroke-dasharray="10 10" stroke-dashoffset="0.0"/>
<path d="M1150.0 974.5L1153.0 972.8L1157.3 969.5L1160.8 965.4L1165.0 959.3L1170.3 949.5L1176.3 941.1L1182.8 928.6L1183.8 927.3L1184.5 927.0L1185.8 929.7L1186.8 935.7L1188.0 964.6L1190.5 1066.4" stroke="#f46d43" stroke-width="10" fill="none" stroke-linejoin="round" stroke-dasharray="10 10" stroke-dashoffset="11.2"/>
<path d="M1190.5 1066.4L1193.3 1182.8L1194.0 1181.5L1195.3 1176.0L1198.0 1147.8L1205.0 1091.4L1208.0 1074.9L1210.8 1062.2L1212.8 1056.2L1215.0 1051.9L1219.5 1046.4L1225.0 1041.7L1233.3 1036.2L1242.5 1031.4L1251.8 1027.5L1263.5 1023.3L1285.0 1017.0L1300.0 1012.0" stroke="#f46d43" stroke-width="10" fill="none" stroke-linejoin="round" stroke-dasharray="10 10" stroke-dashoffset="10.7"/>
<path d="M1300.0 1012.0L1308.0 1009.3L1322.8 1003.0L1332.3 997.5L1334.8 994.5L1337.8 987.1L1339.0 982.8L1342.0 966.3L1343.3 963.3L1344.3 962.0L1344.8 962.5L1345.5 967.7L1350.0 1015.5L1350.5 1017.1L1353.3 1019.7L1355.0 1020.8L1356.8 1021.0L1373.3 1020.0L1381.5 1019.0L1400.0 1016.1" stroke="#f46d43" stroke-width="10" fill="none" stroke-linejoin="round" stroke-dasharray="10 10" stroke-dashoffset="15.7"/>
<path d="M1400.0 1016.1L1617.0 982.0L1651.5 975.8L1684.5 969.1L1701.8 964.5L1721.0 958.0L1745.8 948.5L1765.5 940.0L1785.8 930.2L1805.3 919.7L1820.0 910.5L1836.0 899.4L1857.8 883.1L1875.5 868.8L1888.3 857.4L1900.5 845.4L1910.8 834.3L1922.5 820.5L1937.8 800.9L1974.3 750.5L1992.3 727.1" stroke="#f46d43" stroke-width="10" fill="none" stroke-linejoin="round" stroke-dasharray="10 10" stroke-dashoffset="15.9"/>
<path d="M228.3 811.8L258.1 807.5L301.6 804.3L335.6 803.5L376.1 804.2L384.6 804.9L394.3 806.3L444.6 815.3L469.6 820.4L484.6 824.1L500.3 828.6L546.3 843.7L642.3 880.0L691.5 900.4L730.0 915.3L776.3 931.7L826.0 948.0L858.0 957.6L885.8 964.5L954.8 978.6L978.5 982.5L1006.8 985.6L1031.3 987.6L1064.0 989.2L1089.3 989.9L1096.8 989.6L1105.3 988.6L1122.8 985.8L1131.8 983.8L1140.8 981.3L1147.8 978.7L1150.0 977.5" stroke="#fdae61" stroke-width="10" fill="none" stroke-linejoin="round" stroke-dasharray="10 10" stroke-dashoffset="0.0"/>
<path d="M1150.0 977.5L1153.8 975.6L1157.5 972.6L1161.0 968.6L1165.0 962.9L1170.3 953.2L1176.3 945.0L1182.8 932.9L1183.8 931.6L1184.5 931.3L1185.8 934.0L1186.8 940.1L1188.0 969.0L1190.5 1070.9" stroke="#fdae61" stroke-width="10" fill="none" stroke-linejoin="round" stroke-dasharray="10 10" stroke-dashoffset="11.9"/>
<path d="M1190.5 1070.9L1193.3 1187.4L1194.0 1186.2L1195.3 1180.7L1198.0 1152.6L1205.0 1096.5L1208.0 1080.1L1210.8 1067.5L1212.8 1061.5L1215.0 1057.4L1219.3 1052.3L1224.5 1047.9L1232.5 1042.9L1241.3 1038.6L1249.3 1035.5L1258.5 1032.5L1285.0 1025.8L1300.0 1021.2" stroke="#fdae61" stroke-width="10" fill="none" stroke-linejoin="round" stroke-dasharray="10 10" stroke-dashoffset="10.7"/>
<path d="M1300.0 1021.2L1305.3 1019.6L1322.5 1012.6L1332.3 1007.1L1334.8 1004.2L1337.8 996.8L1339.0 992.5L1342.0 976.0L1343.3 973.0L1344.3 971.8L1344.8 972.3L1345.5 977.4L1350.0 1025.3L1350.5 1026.8L1352.0 1028.4L1354.3 1030.3L1356.0 1030.8L1377.5 1029.5L1398.8 1026.2L1400.0 1026.0" stroke="#fdae61" stroke-width="10" fill="none" stroke-linejoin="round" stroke-dasharray="10 10" stroke-dashoffset="13.5"/>
<path d="M1400.0 1026.0L1417.0 1023.8L1552.3 1007.9L1613.3 1000.2L1644.0 995.2L1668.3 990.3L1687.5 985.5L1705.3 979.5L1726.3 970.9L1753.5 958.6L1773.8 948.2L1793.8 936.7L1810.3 926.2L1826.8 914.4L1845.3 899.8L1867.3 881.3L1881.8 868.1L1895.5 854.6L1906.3 843.1L1918.0 829.3L1935.0 807.6L1973.8 753.4L1992.3 729.1" stroke="#fdae61" stroke-width="10" fill="none" stroke-linejoin="round" stroke-dasharray="10 10" stroke-dashoffset="13.6"/>
<path d="M228.3 812.6L257.8 809.2L299.8 807.1L332.6 807.0L371.6 808.5L381.8 809.2L392.3 810.8L439.3 820.3L461.6 825.2L479.8 829.8L498.3 835.0L522.3 842.6L545.8 850.6L642.5 887.1L690.8 907.1L724.0 920.0L763.3 934.1L803.8 947.5L847.3 960.9L876.0 968.4L917.0 977.0L958.0 984.7L975.5 987.5L1003.8 990.4L1029.5 992.3L1061.5 993.5L1088.0 994.0L1095.5 993.7L1104.0 992.7L1122.0 989.6L1130.8 987.7L1140.0 985.0L1147.5 982.2L1150.0 980.9" stroke="#fee08b" stroke-width="10" fill="none" stroke-linejoin="round" stroke-dasharray="10 10" stroke-dashoffset="0.0"/>
<path d="M1150.0 980.9L1153.5 979.0L1157.5 975.8L1161.0 971.7L1165.0 965.9L1170.3 956.2L1176.3 947.9L1182.8 935.6L1183.8 934.3L1184.5 934.0L1185.8 936.7L1186.8 942.8L1188.0 971.7L1190.5 1073.5" stroke="#fee08b" stroke-width="10" fill="none" stroke-linejoin="round" stroke-dasharray="10 10" stroke-dashoffset="11.9"/>
<path d="M1190.5 1073.5L1193.3 1190.0L1194.0 1188.8L1195.3 1183.3L1198.0 1155.1L1205.0 1098.9L1208.0 1082.4L1210.8 1069.8L1212.8 1063.8L1215.0 1059.6L1219.3 1054.5L1224.5 1050.0L1232.8 1044.6L1241.5 1040.2L1249.5 1037.0L1259.0 1033.8L1285.0 1026.8L1300.0 1022.0" stroke="#fee08b" stroke-width="10" fill="none" stroke-linejoin="round" stroke-dasharray="10 10" stroke-dashoffset="11.0"/>
<path d="M1300.0 1022.0L1305.3 1020.4L1322.5 1013.1L1332.3 1007.5L1334.8 1004.5L1337.8 997.1L1339.0 992.8L1342.0 976.3L1343.3 973.3L1344.3 972.0L1344.8 972.5L1345.5 977.7L1350.0 1025.5L1350.5 1027.1L1352.0 1028.6L1354.3 1030.4L1356.0 1031.0L1377.3 1029.6L1398.5 1026.2L1400.0 1026.0" stroke="#fee08b" stroke-width="10" fill="none" stroke-linejoin="round" stroke-dasharray="10 10" stroke-dashoffset="14.8"/>
<path d="M1400.0 1026.0L1416.5 1023.9L1552.5 1007.9L1613.8 1000.1L1644.5 995.1L1668.5 990.3L1687.5 985.5L1705.3 979.5L1726.3 970.9L1753.5 958.6L1773.8 948.2L1793.8 936.7L1810.3 926.2L1826.8 914.4L1845.3 899.8L1867.3 881.3L1881.8 868.1L1895.5 854.6L1906.3 843.1L1918.0 829.3L1935.0 807.6L1973.8 753.4L1992.3 729.1" stroke="#fee08b" stroke-width="10" fill="none" stroke-linejoin="round" stroke-dasharray="10 10" stroke-dashoffset="15.0"/>
<path d="M228.3 812.6L257.8 809.2L299.8 807.1L332.6 807.0L371.6 808.5L381.8 809.2L392.3 810.8L439.3 820.3L461.6 825.2L479.8 829.8L498.3 835.0L522.3 842.6L545.8 850.6L642.5 887.1L690.8 907.1L724.0 920.0L763.3 934.1L803.8 947.5L847.3 960.9L876.0 968.4L917.0 977.0L958.0 984.7L975.5 987.5L1003.8 990.4L1029.5 992.3L1061.5 993.5L1088.0 994.0L1095.5 993.7L1104.0 992.7L1122.0 989.6L1130.8 987.7L1140.0 985.0L1147.5 982.2L1150.0 980.9" stroke="#e6f598" stroke-width="10" fill="none" stroke-linejoin="round" stroke-dasharray="10 10" stroke-dashoffset="0.0"/>
<path d="M1150.0 980.9L1153.5 979.0L1157.5 975.8L1161.0 971.7L1165.0 965.9L1170.3 956.2L1176.3 947.9L1182.8 935.6L1183.8 934.3L1184.5 934.0L1185.8 936.7L1186.8 942.8L1188.0 971.7L1190.5 1073.5" stroke="#e6f598" stroke-width="10" fill="none" stroke-linejoin="round" stroke-dasharray="10 10" stroke-dashoffset="3.1"/>
<path d="M1190.5 1073.5L1193.3 1190.0L1194.0 1188.8L1195.3 1183.3L1198.0 1155.1L1205.0 1098.9L1208.0 1082.4L1210.8 1069.8L1212.8 1063.8L1215.0 1059.6L1219.3 1054.5L1224.5 1050.0L1232.8 1044.6L1241.5 1040.2L1249.5 1037.0L1259.0 1033.8L1285.0 1026.8L1300.0 1022.0" stroke="#e6f598" stroke-width="10" fill="none" stroke-linejoin="round" stroke-dasharray="10 10" stroke-dashoffset="7.4"/>
<path d="M1300.0 1022.0L1305.3 1020.4L1322.5 1013.1L1332.3 1007.5L1334.8 1004.5L1337.8 997.1L1339.0 992.8L1342.0 976.3L1343.3 973.3L1344.3 972.0L1344.8 972.5L1345.5 977.7L1350.0 1025.5L1350.5 1027.1L1352.0 1028.6L1354.3 1030.4L1356.0 1031.0L1377.3 1029.6L1398.5 1026.2L1400.0 1026.0" stroke="#e6f598" stroke-width="10" fill="none" stroke-linejoin="round" stroke-dasharray="10 10" stroke-dashoffset="11.1"/>
<path d="M1400.0 1026.0L1416.5 1023.9L1552.5 1007.9L1613.8 1000.1L1644.5 995.1L1668.5 990.3L1687.5 985.5L1705.3 979.5L1726.3 970.9L1753.5 958.6L1773.8 948.2L1793.8 936.7L1810.3 926.2L1826.8 914.4L1845.3 899.8L1867.3 881.3L1881.8 868.1L1895.5 854.6L1906.3 843.1L1918.0 829.3L1935.0 807.6L1973.8 753.4L1992.3 729.1" stroke="#e6f598" stroke-width="10" fill="none" stroke-linejoin="round" stroke-dasharray="10 10" stroke-dashoffset="11.3"/>
<path d="M228.3 812.6L257.8 809.2L299.8 807.1L332.6 807.0L371.6 808.5L381.8 809.2L392.3 810.8L439.3 820.3L461.6 825.2L479.8 829.8L498.3 835.0L522.3 842.6L545.8 850.6L642.5 887.1L690.8 907.1L724.0 920.0L763.3 934.1L803.8 947.5L847.3 960.9L876.0 968.4L917.0 977.0L958.0 984.7L975.5 987.5L1003.8 990.4L1029.5 992.3L1061.5 993.5L1088.0 994.0L1095.5 993.7L1104.0 992.7L1122.0 989.6L1130.8 987.7L1140.0 985.0L1147.5 982.2L1150.0 980.9" stroke="#b0dd9c" stroke-width="10" fill="none" stroke-linejoin="round" stroke-dasharray="10 10" stroke-dashoffset="0.0"/>
<path d="M1150.0 980.9L1153.5 979.0L1157.5 975.8L1161.0 971.7L1165.0 965.9L1170.3 956.2L1176.3 947.9L1182.8 935.6L1183.8 934.3L1184.5 934.0L1185.8 936.7L1186.8 942.8L1188.0 971.7L1190.5 1073.5" stroke="#b0dd9c" stroke-width="10" fill="none" stroke-linejoin="round" stroke-dasharray="10 10" stroke-dashoffset="11.9"/>
<path d="M1190.5 1073.5L1193.3 1190.0L1194.0 1188.8L1195.3 1183.3L1198.0 1155.1L1205.0 1098.9L1208.0 1082.4L1210.8 1069.8L1212.8 1063.8L1215.0 1059.6L1219.3 1054.5L1224.5 1050.0L1232.8 1044.6L1241.5 1040.2L1249.5 1037.0L1259.0 1033.8L1285.0 1026.8L1300.0 1022.0" stroke="#b0dd9c" stroke-width="10" fill="none" stroke-linejoin="round" stroke-dasharray="10 10" stroke-dashoffset="11.0"/>
<path d="M1300.0 1022.0L1305.3 1020.4L1322.5 1013.1L1332.3 1007.5L1334.8 1004.5L1337.8 997.1L1339.0 992.8L1342.0 976.3L1343.3 973.3L1344.3 972.0L1344.8 972.5L1345.5 977.7L1350.0 1025.5L1350.5 1027.1L1352.0 1028.6L1354.3 1030.4L1356.0 1031.0L1377.3 1029.6L1398.5 1026.2L1400.0 1026.0" stroke="#b0dd9c" stroke-width="10" fill="none" stroke-linejoin="round" stroke-dasharray="10 10" stroke-dashoffset="14.8"/>
<path d="M1400.0 1026.0L1416.5 1023.9L1552.5 1007.9L1613.8 1000.1L1644.5 995.1L1668.5 990.3L1687.5 985.5L1705.3 979.5L1726.3 970.9L1753.5 958.6L1773.8 948.2L1793.8 936.7L1810.3 926.2L1826.8 914.4L1845.3 899.8L1867.3 881.3L1881.8 868.1L1895.5 854.6L1906.3 843.1L1918.0 829.3L1935.0 807.6L1973.8 753.4L1992.3 729.1" stroke="#b0dd9c" stroke-width="10" fill="none" stroke-linejoin="round" stroke-dasharray="10 10" stroke-dashoffset="15.0"/>
<path d="M228.3 812.6L257.8 809.2L299.8 807.1L332.6 807.0L371.6 808.5L381.8 809.2L392.3 810.8L439.3 820.3L461.6 825.2L479.8 829.8L498.3 835.0L522.3 842.6L545.8 850.6L642.5 887.1L690.8 907.1L724.0 920.0L763.3 934.1L803.8 947.5L847.3 960.9L876.0 968.4L917.0 977.0L958.0 984.7L975.5 987.5L1003.8 990.4L1029.5 992.3L1061.5 993.5L1088.0 994.0L1095.5 993.7L1104.0 992.7L1122.0 989.6L1130.8 987.7L1140.0 985.0L1147.5 982.2L1150.0 980.9" stroke="#66c6a0" stroke-width="10" fill="none" stroke-linejoin="round" stroke-dasharray="10 10" stroke-dashoffset="0.0"/>
<path d="M1150.0 980.9L1153.5 979.0L1157.5 975.8L1161.0 971.7L1165.0 965.9L1170.3 956.2L1176.3 947.9L1182.8 935.6L1183.8 934.3L1184.5 934.0L1185.8 936.7L1186.8 942.8L1188.0 971.7L1190.5 1073.5" stroke="#66c6a0" stroke-width="10" fill="none" stroke-linejoin="round" stroke-dasharray="10 10" stroke-dashoffset="11.9"/>
<path d="M1190.5 1073.5L1193.3 1190.0L1194.0 1188.8L1195.3 1183.3L1198.0 1155.1L1205.0 1098.9L1208.0 1082.4L1210.8 1069.8L1212.8 1063.8L1215.0 1059.6L1219.3 1054.5L1224.5 1050.0L1232.8 1044.6L1241.5 1040.2L1249.5 1037.0L1259.0 1033.8L1285.0 1026.8L1300.0 1022.0" stroke="#66c6a0" stroke-width="10" fill="none" stroke-linejoin="round" stroke-dasharray="10 10" stroke-dashoffset="11.0"/>
<path d="M1300.0 1022.0L1305.3 1020.4L1322.5 1013.1L1332.3 1007.5L1334.8 1004.5L1337.8 997.1L1339.0 992.8L1342.0 976.3L1343.3 973.3L1344.3 972.0L1344.8 972.5L1345.5 977.7L1350.0 1025.5L1350.5 1027.1L1352.0 1028.6L1354.3 1030.4L1356.0 1031.0L1377.3 1029.6L1398.5 1026.2L1400.0 1026.0" stroke="#66c6a0" stroke-width="10" fill="none" stroke-linejoin="round" stroke-dasharray="10 10" stroke-dashoffset="14.8"/>
<path d="M1400.0 1026.0L1416.5 1023.9L1552.5 1007.9L1613.8 1000.1L1644.5 995.1L1668.5 990.3L1687.5 985.5L1705.3 979.5L1726.3 970.9L1753.5 958.6L1773.8 948.2L1793.8 936.7L1810.3 926.2L1826.8 914.4L1845.3 899.8L1867.3 881.3L1881.8 868.1L1895.5 854.6L1906.3 843.1L1918.0 829.3L1935.0 807.6L1973.8 753.4L1992.3 729.1" stroke="#66c6a0" stroke-width="10" fill="none" stroke-linejoin="round" stroke-dasharray="10 10" stroke-dashoffset="15.0"/>
<path d="M228.3 812.6L257.8 809.2L299.8 807.1L332.6 807.0L371.6 808.5L381.8 809.2L392.3 810.8L439.3 820.3L461.6 825.2L479.8 829.8L498.3 835.0L522.3 842.6L545.8 850.6L642.5 887.1L690.8 907.1L724.0 920.0L763.3 934.1L803.8 947.5L847.3 960.9L876.0 968.4L917.0 977.0L958.0 984.7L975.5 987.5L1003.8 990.4L1029.5 992.3L1061.5 993.5L1088.0 994.0L1095.5 993.7L1104.0 992.7L1122.0 989.6L1130.8 987.7L1140.0 985.0L1147.5 982.2L1150.0 980.9" stroke="#1a9bb0" stroke-width="10" fill="none" stroke-linejoin="round" stroke-dasharray="10 10" stroke-dashoffset="0.0"/>
<path d="M1150.0 980.9L1153.5 979.0L1157.5 975.8L1161.0 971.7L1165.0 965.9L1170.3 956.2L1176.3 947.9L1182.8 935.6L1183.8 934.3L1184.5 934.0L1185.8 936.7L1186.8 942.8L1188.0 971.7L1190.5 1073.5" stroke="#1a9bb0" stroke-width="10" fill="none" stroke-linejoin="round" stroke-dasharray="10 10" stroke-dashoffset="13.1"/>
<path d="M1190.5 1073.5L1193.3 1190.0L1194.0 1188.8L1195.3 1183.3L1198.0 1155.1L1205.0 1098.9L1208.0 1082.4L1210.8 1069.8L1212.8 1063.8L1215.0 1059.6L1219.3 1054.5L1224.5 1050.0L1232.8 1044.6L1241.5 1040.2L1249.5 1037.0L1259.0 1033.8L1285.0 1026.8L1300.0 1022.0" stroke="#1a9bb0" stroke-width="10" fill="none" stroke-linejoin="round" stroke-dasharray="10 10" stroke-dashoffset="17.4"/>
<path d="M1300.0 1022.0L1305.3 1020.4L1322.5 1013.1L1332.3 1007.5L1334.8 1004.5L1337.8 997.1L1339.0 992.8L1342.0 976.3L1343.3 973.3L1344.3 972.0L1344.8 972.5L1345.5 977.7L1350.0 1025.5L1350.5 1027.1L1352.0 1028.6L1354.3 1030.4L1356.0 1031.0L1377.3 1029.6L1398.5 1026.2L1400.0 1026.0" stroke="#1a9bb0" stroke-width="10" fill="none" stroke-linejoin="round" stroke-dasharray="10 10" stroke-dashoffset="1.1"/>
<path d="M1400.0 1026.0L1415.3 1024.0L1555.0 1007.6L1595.8 1002.6L1619.5 999.2L1652.0 993.7L1678.0 988.0L1696.0 982.8L1716.5 975.1L1744.3 963.0L1763.3 953.8L1784.3 942.3L1804.8 929.8L1819.3 919.6L1834.8 907.2L1852.8 891.5L1872.0 873.5L1887.3 858.0L1901.8 841.9L1913.0 828.1L1925.8 811.0L1937.0 794.7L1952.5 770.8L1992.3 705.9" stroke="#1a9bb0" stroke-width="10" fill="none" stroke-linejoin="round" stroke-dasharray="10 10" stroke-dashoffset="1.4"/></g>
<rect x="228.3" y="167.0" width="1764.1" height="498.9" fill="none" stroke="#111" stroke-width="1.9"/>
<rect x="228.3" y="698.7" width="1764.1" height="512.9" fill="none" stroke="#111" stroke-width="1.9"/>
<path d="M228.3 665.9V648.4M228.3 167.0V184.5M848.0 665.9V648.4M848.0 167.0V184.5M1467.7 665.9V648.4M1467.7 167.0V184.5M414.8 665.9V656.9M414.8 167.0V176.0M524.0 665.9V656.9M524.0 167.0V176.0M601.4 665.9V656.9M601.4 167.0V176.0M661.5 665.9V656.9M661.5 167.0V176.0M710.5 665.9V656.9M710.5 167.0V176.0M752.0 665.9V656.9M752.0 167.0V176.0M787.9 665.9V656.9M787.9 167.0V176.0M819.6 665.9V656.9M819.6 167.0V176.0M1034.5 665.9V656.9M1034.5 167.0V176.0M1143.7 665.9V656.9M1143.7 167.0V176.0M1221.1 665.9V656.9M1221.1 167.0V176.0M1281.2 665.9V656.9M1281.2 167.0V176.0M1330.2 665.9V656.9M1330.2 167.0V176.0M1371.7 665.9V656.9M1371.7 167.0V176.0M1407.6 665.9V656.9M1407.6 167.0V176.0M1439.3 665.9V656.9M1439.3 167.0V176.0M1654.2 665.9V656.9M1654.2 167.0V176.0M1763.4 665.9V656.9M1763.4 167.0V176.0M1840.8 665.9V656.9M1840.8 167.0V176.0M1900.9 665.9V656.9M1900.9 167.0V176.0M1949.9 665.9V656.9M1949.9 167.0V176.0M228.3 1211.6V1194.1M228.3 698.7V716.2M848.0 1211.6V1194.1M848.0 698.7V716.2M1467.7 1211.6V1194.1M1467.7 698.7V716.2M414.8 1211.6V1202.6M414.8 698.7V707.7M524.0 1211.6V1202.6M524.0 698.7V707.7M601.4 1211.6V1202.6M601.4 698.7V707.7M661.5 1211.6V1202.6M661.5 698.7V707.7M710.5 1211.6V1202.6M710.5 698.7V707.7M752.0 1211.6V1202.6M752.0 698.7V707.7M787.9 1211.6V1202.6M787.9 698.7V707.7M819.6 1211.6V1202.6M819.6 698.7V707.7M1034.5 1211.6V1202.6M1034.5 698.7V707.7M1143.7 1211.6V1202.6M1143.7 698.7V707.7M1221.1 1211.6V1202.6M1221.1 698.7V707.7M1281.2 1211.6V1202.6M1281.2 698.7V707.7M1330.2 1211.6V1202.6M1330.2 698.7V707.7M1371.7 1211.6V1202.6M1371.7 698.7V707.7M1407.6 1211.6V1202.6M1407.6 698.7V707.7M1439.3 1211.6V1202.6M1439.3 698.7V707.7M1654.2 1211.6V1202.6M1654.2 698.7V707.7M1763.4 1211.6V1202.6M1763.4 698.7V707.7M1840.8 1211.6V1202.6M1840.8 698.7V707.7M1900.9 1211.6V1202.6M1900.9 698.7V707.7M1949.9 1211.6V1202.6M1949.9 698.7V707.7M228.3 643.0H245.8M1992.4 643.0H1974.9M228.3 436.5H245.8M1992.4 436.5H1974.9M228.3 230.0H245.8M1992.4 230.0H1974.9M228.3 1169.7H245.8M1992.4 1169.7H1974.9M228.3 1083.9H245.8M1992.4 1083.9H1974.9M228.3 998.1H245.8M1992.4 998.1H1974.9M228.3 912.3H245.8M1992.4 912.3H1974.9M228.3 826.5H245.8M1992.4 826.5H1974.9M228.3 740.7H245.8M1992.4 740.7H1974.9" stroke="#111" stroke-width="1.8" fill="none"/>
<g fill="#1a1a1a"><text x="203" y="658.8" text-anchor="end" font-size="76">40</text>
<text x="203" y="452.3" text-anchor="end" font-size="76">45</text>
<text x="203" y="245.8" text-anchor="end" font-size="76">50</text>
<text x="202.5" y="1185.3" text-anchor="end" font-size="76">-20</text>
<text x="202.5" y="1099.5" text-anchor="end" font-size="76">0</text>
<text x="202.5" y="1013.7" text-anchor="end" font-size="76">20</text>
<text x="202.5" y="927.9" text-anchor="end" font-size="76">40</text>
<text x="202.5" y="842.1" text-anchor="end" font-size="76">60</text>
<text x="202.5" y="756.3" text-anchor="end" font-size="76">80</text>
<text x="173.2" y="1327.5" font-size="79">10<tspan dy="-36" dx="-4" font-size="57">0</tspan></text>
<text x="794.0" y="1327.5" font-size="79">10<tspan dy="-36" dx="-4" font-size="57">1</tspan></text>
<text x="1415.0" y="1327.5" font-size="79">10<tspan dy="-36" dx="-4" font-size="57">2</tspan></text></g>
<text x="866.6" y="1375.8" font-size="81" fill="#1a1a1a" textLength="485" lengthAdjust="spacingAndGlyphs">Frequency/Hz</text>
<text transform="translate(78.5 667.8) rotate(-90)" x="0" y="0" font-size="82" fill="#1a1a1a" textLength="497.8" lengthAdjust="spacingAndGlyphs">Magnitude/dB</text>
<text transform="translate(75.8 1133.2) rotate(-90)" x="0" y="0" font-size="80" fill="#1a1a1a" textLength="354.6" lengthAdjust="spacingAndGlyphs">Phase/deg</text>
<rect x="228.2" y="32" width="1549.8" height="243" fill="#fff" stroke="#111" stroke-width="1.9"/>
<path d="M239.2 77.5H279.2M319.2 77.5H359.2" stroke="#005a2a" stroke-width="10"/>
<text x="407.0" y="91.6" font-size="64" fill="#111"><tspan font-style="italic">k</tspan><tspan font-size="50" dy="11.4">Q</tspan></text>
<path d="M239.2 152.5H279.2M319.2 152.5H359.2" stroke="#f46d43" stroke-width="10"/>
<text x="407.0" y="169.0" font-size="64" fill="#111"><tspan font-style="italic">k</tspan><tspan font-size="50" dy="11.4">pu</tspan></text>
<path d="M239.2 230.3H279.2M319.2 230.3H359.2" stroke="#66c6a0" stroke-width="10"/>
<text x="407.0" y="245.7" font-size="64" fill="#111"><tspan font-style="italic">k</tspan><tspan font-size="50" dy="11.4">iccsc</tspan></text>
<path d="M565.0 77.5H605.0M645.0 77.5H685.0" stroke="#2e0a3f" stroke-width="10"/>
<text x="731.7" y="91.6" font-size="64" fill="#111"><tspan font-style="italic">k</tspan><tspan font-size="50" dy="11.4">pE</tspan></text>
<path d="M565.0 152.5H605.0M645.0 152.5H685.0" stroke="#fdae61" stroke-width="10"/>
<text x="731.7" y="169.0" font-size="64" fill="#111"><tspan font-style="italic">k</tspan><tspan font-size="50" dy="11.4">iu</tspan></text>
<path d="M565.0 230.3H605.0M645.0 230.3H685.0" stroke="#1a9bb0" stroke-width="10"/>
<text x="731.7" y="245.7" font-size="64" font-style="italic" fill="#111">delay</text>
<path d="M898.5 77.5H938.5M978.5 77.5H1018.5" stroke="#6d2b40" stroke-width="10"/>
<text x="1063.0" y="91.6" font-size="64" fill="#111"><tspan font-style="italic">k</tspan><tspan font-size="50" dy="11.4">iE</tspan></text>
<path d="M898.5 152.5H938.5M978.5 152.5H1018.5" stroke="#fee08b" stroke-width="10"/>
<text x="1063.0" y="169.0" font-size="64" fill="#111"><tspan font-style="italic">k</tspan><tspan font-size="50" dy="11.4">pi</tspan></text>
<path d="M898.5 230.3H1048.5" stroke="#455ea8" stroke-width="10"/>
<text x="1061.5" y="245.7" font-size="64" fill="#111" textLength="112" lengthAdjust="spacing">init.</text>
<path d="M1201.3 77.5H1241.3M1281.3 77.5H1321.3" stroke="#a2093f" stroke-width="10"/>
<text x="1367.0" y="91.6" font-size="64" font-style="italic" fill="#111">D</text>
<path d="M1201.3 152.5H1241.3M1281.3 152.5H1321.3" stroke="#e6f598" stroke-width="10"/>
<text x="1367.0" y="169.0" font-size="64" fill="#111"><tspan font-style="italic">k</tspan><tspan font-size="50" dy="11.4">ii</tspan></text>
<path d="M1455.5 77.5H1495.5M1535.5 77.5H1575.5" stroke="#e0404f" stroke-width="10"/>
<text x="1621.0" y="91.6" font-size="64" fill="#111"><tspan font-style="italic">T</tspan><tspan font-size="50" dy="11.4">j</tspan></text>
<path d="M1455.5 152.5H1495.5M1535.5 152.5H1575.5" stroke="#b0dd9c" stroke-width="10"/>
<text x="1621.0" y="169.0" font-size="64" fill="#111"><tspan font-style="italic">k</tspan><tspan font-size="50" dy="11.4">pccsc</tspan></text>
</svg>
</body></html>
